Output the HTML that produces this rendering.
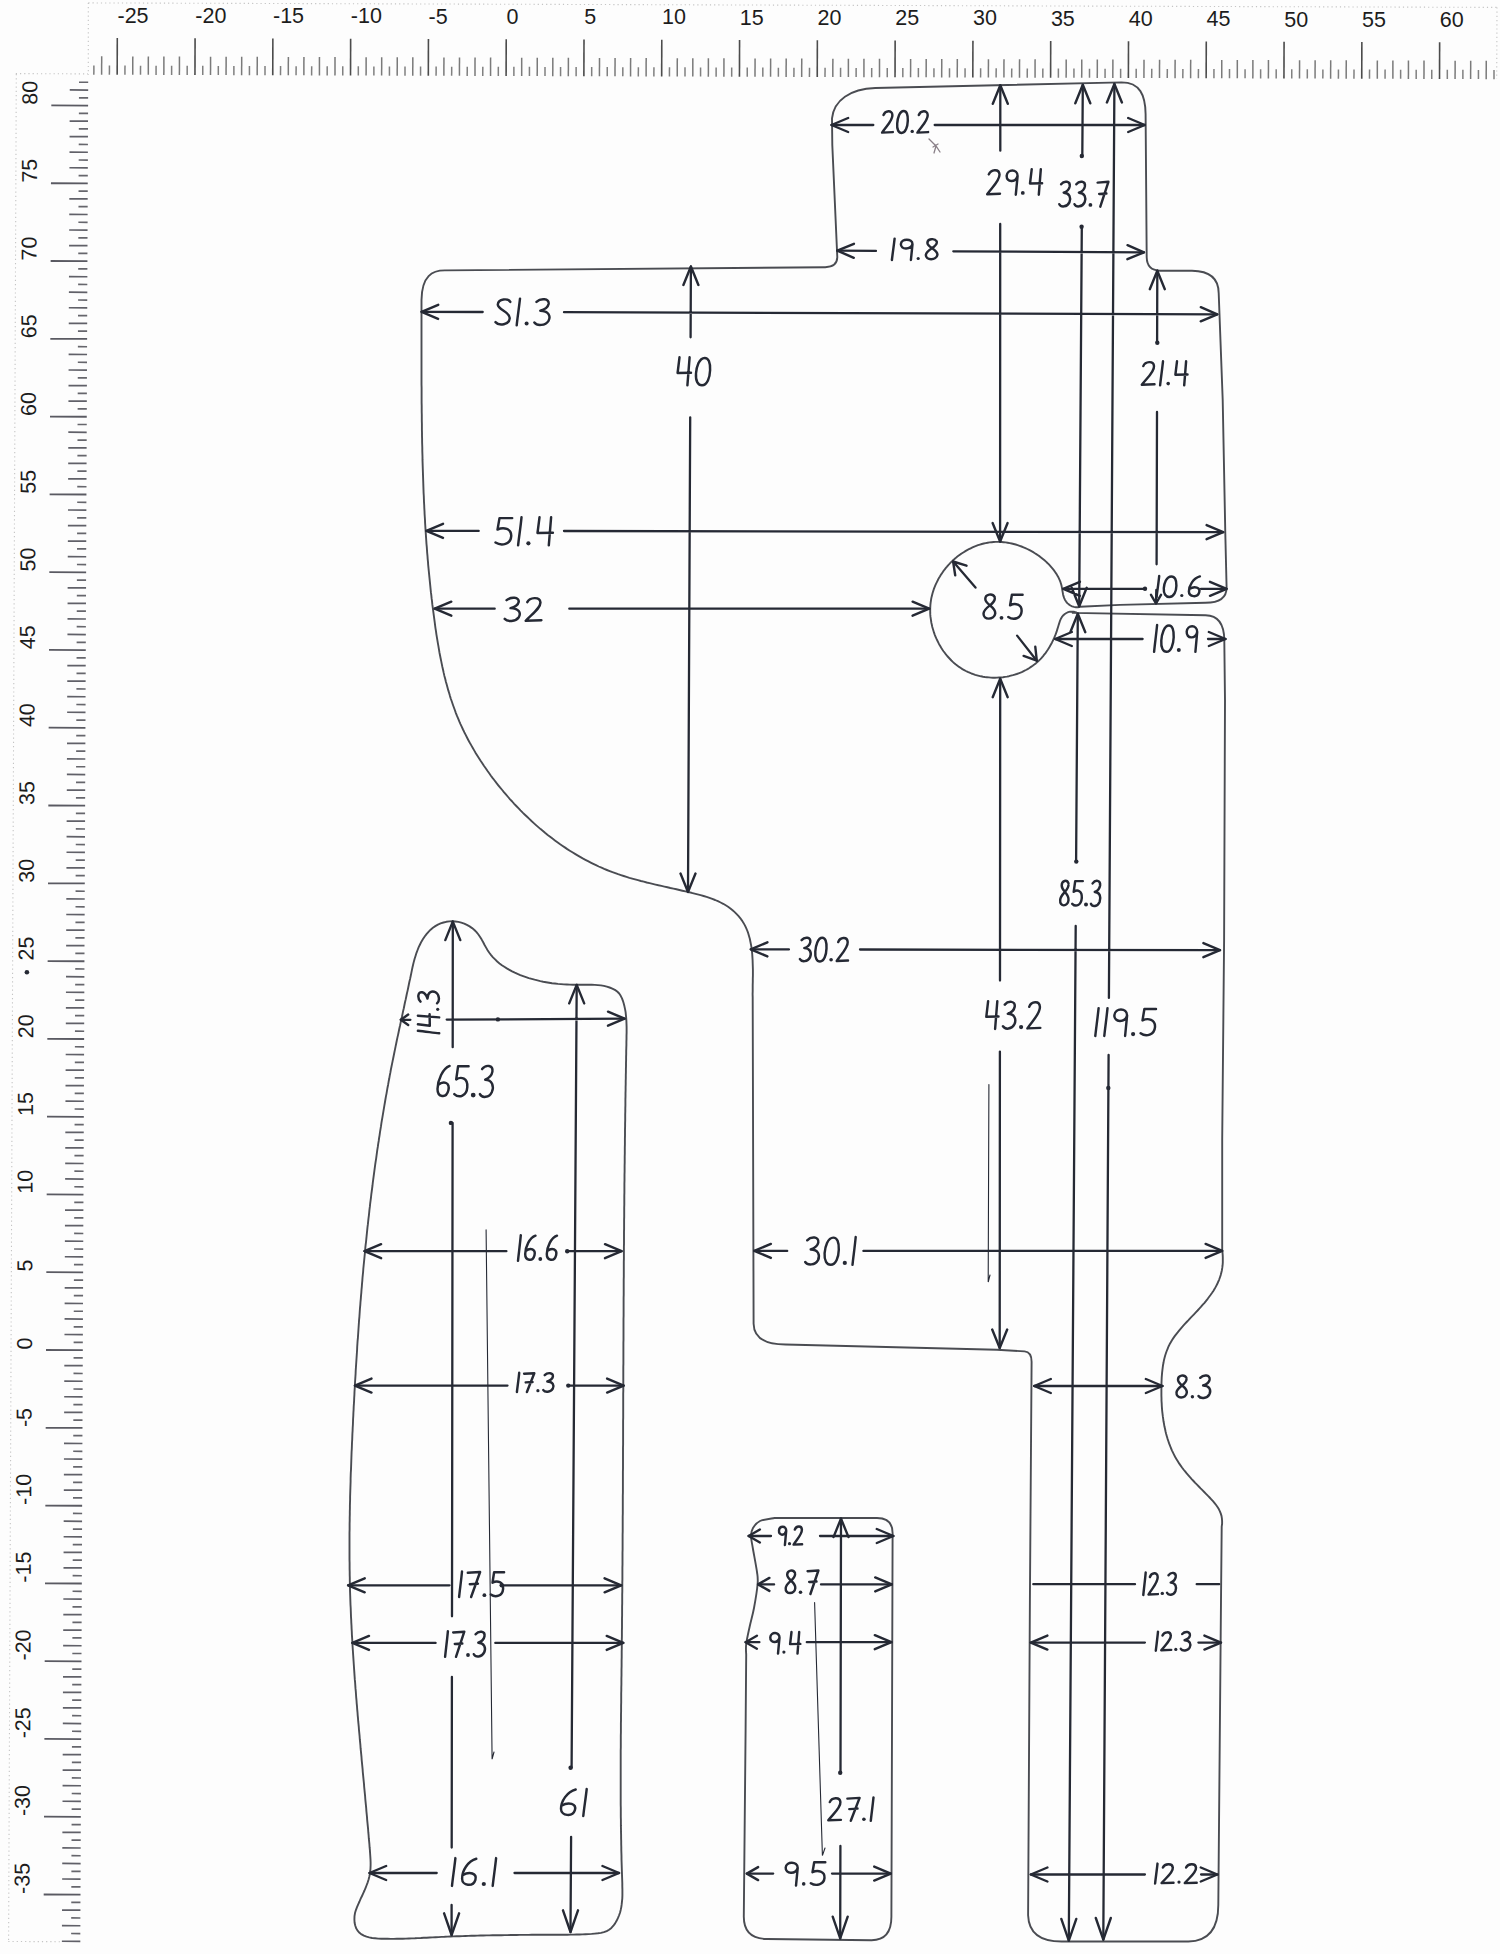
<!DOCTYPE html>
<html><head><meta charset="utf-8"><title>Pattern</title>
<style>html,body{margin:0;padding:0;background:#fdfdfd;} svg{display:block;} .rl{font-family:"Liberation Sans",sans-serif;font-size:21.5px;fill:#1c1c1c;}</style></head>
<body><svg width="1500" height="1954" viewBox="0 0 1500 1954">
<rect width="1500" height="1954" fill="#fdfdfd"/>
<g stroke="#5a5a5a" fill="none"><line x1="93.87" y1="65.48" x2="93.84" y2="74.68" stroke-width="1.5" stroke="#808080"/><line x1="101.68" y1="56.31" x2="101.62" y2="74.71" stroke-width="1.5" stroke="#7a7a7a"/><line x1="109.43" y1="65.53" x2="109.40" y2="74.73" stroke-width="1.5" stroke="#808080"/><line x1="117.29" y1="37.96" x2="117.18" y2="74.76" stroke-width="1.6" stroke="#4c4c4c"/><line x1="124.98" y1="65.58" x2="124.95" y2="74.78" stroke-width="1.5" stroke="#808080"/><line x1="132.79" y1="56.41" x2="132.73" y2="74.81" stroke-width="1.5" stroke="#7a7a7a"/><line x1="140.54" y1="65.63" x2="140.51" y2="74.83" stroke-width="1.5" stroke="#808080"/><line x1="148.35" y1="56.46" x2="148.29" y2="74.86" stroke-width="1.5" stroke="#7a7a7a"/><line x1="156.10" y1="65.68" x2="156.07" y2="74.88" stroke-width="1.5" stroke="#808080"/><line x1="163.90" y1="56.51" x2="163.85" y2="74.91" stroke-width="1.5" stroke="#7a7a7a"/><line x1="171.65" y1="65.73" x2="171.62" y2="74.93" stroke-width="1.5" stroke="#808080"/><line x1="179.46" y1="56.55" x2="179.40" y2="74.95" stroke-width="1.5" stroke="#7a7a7a"/><line x1="187.21" y1="65.78" x2="187.18" y2="74.98" stroke-width="1.5" stroke="#808080"/><line x1="195.08" y1="38.20" x2="194.96" y2="75.00" stroke-width="1.6" stroke="#4c4c4c"/><line x1="202.77" y1="65.83" x2="202.74" y2="75.03" stroke-width="1.5" stroke="#808080"/><line x1="210.58" y1="56.65" x2="210.52" y2="75.05" stroke-width="1.5" stroke="#7a7a7a"/><line x1="218.32" y1="65.88" x2="218.30" y2="75.08" stroke-width="1.5" stroke="#808080"/><line x1="226.13" y1="56.70" x2="226.07" y2="75.10" stroke-width="1.5" stroke="#7a7a7a"/><line x1="233.88" y1="65.93" x2="233.85" y2="75.13" stroke-width="1.5" stroke="#808080"/><line x1="241.69" y1="56.75" x2="241.63" y2="75.15" stroke-width="1.5" stroke="#7a7a7a"/><line x1="249.44" y1="65.98" x2="249.41" y2="75.18" stroke-width="1.5" stroke="#808080"/><line x1="257.25" y1="56.80" x2="257.19" y2="75.20" stroke-width="1.5" stroke="#7a7a7a"/><line x1="265.00" y1="66.03" x2="264.97" y2="75.23" stroke-width="1.5" stroke="#808080"/><line x1="272.86" y1="38.45" x2="272.75" y2="75.25" stroke-width="1.6" stroke="#4c4c4c"/><line x1="280.55" y1="66.08" x2="280.52" y2="75.28" stroke-width="1.5" stroke="#808080"/><line x1="288.36" y1="56.90" x2="288.30" y2="75.30" stroke-width="1.5" stroke="#7a7a7a"/><line x1="296.11" y1="66.13" x2="296.08" y2="75.33" stroke-width="1.5" stroke="#808080"/><line x1="303.92" y1="56.95" x2="303.86" y2="75.35" stroke-width="1.5" stroke="#7a7a7a"/><line x1="311.67" y1="66.18" x2="311.64" y2="75.38" stroke-width="1.5" stroke="#808080"/><line x1="319.47" y1="57.00" x2="319.42" y2="75.40" stroke-width="1.5" stroke="#7a7a7a"/><line x1="327.22" y1="66.23" x2="327.19" y2="75.43" stroke-width="1.5" stroke="#808080"/><line x1="335.03" y1="57.05" x2="334.97" y2="75.45" stroke-width="1.5" stroke="#7a7a7a"/><line x1="342.78" y1="66.28" x2="342.75" y2="75.48" stroke-width="1.5" stroke="#808080"/><line x1="350.65" y1="38.70" x2="350.53" y2="75.50" stroke-width="1.6" stroke="#4c4c4c"/><line x1="358.34" y1="66.33" x2="358.31" y2="75.53" stroke-width="1.5" stroke="#808080"/><line x1="366.15" y1="57.15" x2="366.09" y2="75.55" stroke-width="1.5" stroke="#7a7a7a"/><line x1="373.89" y1="66.38" x2="373.87" y2="75.58" stroke-width="1.5" stroke="#808080"/><line x1="381.70" y1="57.20" x2="381.64" y2="75.60" stroke-width="1.5" stroke="#7a7a7a"/><line x1="389.45" y1="66.43" x2="389.42" y2="75.63" stroke-width="1.5" stroke="#808080"/><line x1="397.26" y1="57.25" x2="397.20" y2="75.65" stroke-width="1.5" stroke="#7a7a7a"/><line x1="405.01" y1="66.48" x2="404.98" y2="75.68" stroke-width="1.5" stroke="#808080"/><line x1="412.82" y1="57.30" x2="412.76" y2="75.70" stroke-width="1.5" stroke="#7a7a7a"/><line x1="420.57" y1="66.53" x2="420.54" y2="75.73" stroke-width="1.5" stroke="#808080"/><line x1="428.43" y1="38.95" x2="428.32" y2="75.75" stroke-width="1.6" stroke="#4c4c4c"/><line x1="436.12" y1="66.58" x2="436.09" y2="75.78" stroke-width="1.5" stroke="#808080"/><line x1="443.93" y1="57.40" x2="443.87" y2="75.80" stroke-width="1.5" stroke="#7a7a7a"/><line x1="451.68" y1="66.63" x2="451.65" y2="75.83" stroke-width="1.5" stroke="#808080"/><line x1="459.49" y1="57.45" x2="459.43" y2="75.85" stroke-width="1.5" stroke="#7a7a7a"/><line x1="467.24" y1="66.68" x2="467.21" y2="75.88" stroke-width="1.5" stroke="#808080"/><line x1="475.04" y1="57.50" x2="474.99" y2="75.90" stroke-width="1.5" stroke="#7a7a7a"/><line x1="482.79" y1="66.73" x2="482.76" y2="75.93" stroke-width="1.5" stroke="#808080"/><line x1="490.60" y1="57.55" x2="490.54" y2="75.95" stroke-width="1.5" stroke="#7a7a7a"/><line x1="498.35" y1="66.78" x2="498.32" y2="75.98" stroke-width="1.5" stroke="#808080"/><line x1="506.22" y1="39.20" x2="506.10" y2="76.00" stroke-width="1.6" stroke="#4c4c4c"/><line x1="513.91" y1="66.83" x2="513.88" y2="76.03" stroke-width="1.5" stroke="#808080"/><line x1="521.72" y1="57.65" x2="521.66" y2="76.05" stroke-width="1.5" stroke="#7a7a7a"/><line x1="529.46" y1="66.87" x2="529.44" y2="76.07" stroke-width="1.5" stroke="#808080"/><line x1="537.27" y1="57.70" x2="537.21" y2="76.10" stroke-width="1.5" stroke="#7a7a7a"/><line x1="545.02" y1="66.92" x2="544.99" y2="76.12" stroke-width="1.5" stroke="#808080"/><line x1="552.83" y1="57.75" x2="552.77" y2="76.15" stroke-width="1.5" stroke="#7a7a7a"/><line x1="560.58" y1="66.97" x2="560.55" y2="76.17" stroke-width="1.5" stroke="#808080"/><line x1="568.39" y1="57.80" x2="568.33" y2="76.20" stroke-width="1.5" stroke="#7a7a7a"/><line x1="576.14" y1="67.02" x2="576.11" y2="76.22" stroke-width="1.5" stroke="#808080"/><line x1="584.00" y1="39.45" x2="583.88" y2="76.25" stroke-width="1.6" stroke="#4c4c4c"/><line x1="591.69" y1="67.07" x2="591.66" y2="76.27" stroke-width="1.5" stroke="#808080"/><line x1="599.50" y1="57.90" x2="599.44" y2="76.30" stroke-width="1.5" stroke="#7a7a7a"/><line x1="607.25" y1="67.12" x2="607.22" y2="76.32" stroke-width="1.5" stroke="#808080"/><line x1="615.06" y1="57.95" x2="615.00" y2="76.35" stroke-width="1.5" stroke="#7a7a7a"/><line x1="622.81" y1="67.17" x2="622.78" y2="76.37" stroke-width="1.5" stroke="#808080"/><line x1="630.61" y1="58.00" x2="630.56" y2="76.40" stroke-width="1.5" stroke="#7a7a7a"/><line x1="638.36" y1="67.22" x2="638.33" y2="76.42" stroke-width="1.5" stroke="#808080"/><line x1="646.17" y1="58.05" x2="646.11" y2="76.45" stroke-width="1.5" stroke="#7a7a7a"/><line x1="653.92" y1="67.27" x2="653.89" y2="76.47" stroke-width="1.5" stroke="#808080"/><line x1="661.79" y1="39.70" x2="661.67" y2="76.50" stroke-width="1.6" stroke="#4c4c4c"/><line x1="669.48" y1="67.32" x2="669.45" y2="76.52" stroke-width="1.5" stroke="#808080"/><line x1="677.29" y1="58.15" x2="677.23" y2="76.55" stroke-width="1.5" stroke="#7a7a7a"/><line x1="685.03" y1="67.37" x2="685.01" y2="76.57" stroke-width="1.5" stroke="#808080"/><line x1="692.84" y1="58.20" x2="692.78" y2="76.60" stroke-width="1.5" stroke="#7a7a7a"/><line x1="700.59" y1="67.42" x2="700.56" y2="76.62" stroke-width="1.5" stroke="#808080"/><line x1="708.40" y1="58.25" x2="708.34" y2="76.65" stroke-width="1.5" stroke="#7a7a7a"/><line x1="716.15" y1="67.47" x2="716.12" y2="76.67" stroke-width="1.5" stroke="#808080"/><line x1="723.96" y1="58.30" x2="723.90" y2="76.70" stroke-width="1.5" stroke="#7a7a7a"/><line x1="731.71" y1="67.52" x2="731.68" y2="76.72" stroke-width="1.5" stroke="#808080"/><line x1="739.57" y1="39.95" x2="739.46" y2="76.75" stroke-width="1.6" stroke="#4c4c4c"/><line x1="747.26" y1="67.57" x2="747.23" y2="76.77" stroke-width="1.5" stroke="#808080"/><line x1="755.07" y1="58.40" x2="755.01" y2="76.80" stroke-width="1.5" stroke="#7a7a7a"/><line x1="762.82" y1="67.62" x2="762.79" y2="76.82" stroke-width="1.5" stroke="#808080"/><line x1="770.63" y1="58.45" x2="770.57" y2="76.85" stroke-width="1.5" stroke="#7a7a7a"/><line x1="778.38" y1="67.67" x2="778.35" y2="76.87" stroke-width="1.5" stroke="#808080"/><line x1="786.18" y1="58.50" x2="786.13" y2="76.90" stroke-width="1.5" stroke="#7a7a7a"/><line x1="793.93" y1="67.72" x2="793.90" y2="76.92" stroke-width="1.5" stroke="#808080"/><line x1="801.74" y1="58.55" x2="801.68" y2="76.95" stroke-width="1.5" stroke="#7a7a7a"/><line x1="809.49" y1="67.77" x2="809.46" y2="76.97" stroke-width="1.5" stroke="#808080"/><line x1="817.36" y1="40.20" x2="817.24" y2="77.00" stroke-width="1.6" stroke="#4c4c4c"/><line x1="825.05" y1="67.82" x2="825.02" y2="77.02" stroke-width="1.5" stroke="#808080"/><line x1="832.86" y1="58.65" x2="832.80" y2="77.05" stroke-width="1.5" stroke="#7a7a7a"/><line x1="840.60" y1="67.87" x2="840.58" y2="77.07" stroke-width="1.5" stroke="#808080"/><line x1="848.41" y1="58.70" x2="848.35" y2="77.10" stroke-width="1.5" stroke="#7a7a7a"/><line x1="856.16" y1="67.92" x2="856.13" y2="77.12" stroke-width="1.5" stroke="#808080"/><line x1="863.97" y1="58.75" x2="863.91" y2="77.15" stroke-width="1.5" stroke="#7a7a7a"/><line x1="871.72" y1="67.97" x2="871.69" y2="77.17" stroke-width="1.5" stroke="#808080"/><line x1="879.53" y1="58.80" x2="879.47" y2="77.20" stroke-width="1.5" stroke="#7a7a7a"/><line x1="887.28" y1="68.02" x2="887.25" y2="77.22" stroke-width="1.5" stroke="#808080"/><line x1="895.14" y1="40.44" x2="895.03" y2="77.24" stroke-width="1.6" stroke="#4c4c4c"/><line x1="902.83" y1="68.07" x2="902.80" y2="77.27" stroke-width="1.5" stroke="#808080"/><line x1="910.64" y1="58.89" x2="910.58" y2="77.29" stroke-width="1.5" stroke="#7a7a7a"/><line x1="918.39" y1="68.12" x2="918.36" y2="77.32" stroke-width="1.5" stroke="#808080"/><line x1="926.20" y1="58.94" x2="926.14" y2="77.34" stroke-width="1.5" stroke="#7a7a7a"/><line x1="933.95" y1="68.17" x2="933.92" y2="77.37" stroke-width="1.5" stroke="#808080"/><line x1="941.75" y1="58.99" x2="941.70" y2="77.39" stroke-width="1.5" stroke="#7a7a7a"/><line x1="949.50" y1="68.22" x2="949.47" y2="77.42" stroke-width="1.5" stroke="#808080"/><line x1="957.31" y1="59.04" x2="957.25" y2="77.44" stroke-width="1.5" stroke="#7a7a7a"/><line x1="965.06" y1="68.27" x2="965.03" y2="77.47" stroke-width="1.5" stroke="#808080"/><line x1="972.93" y1="40.69" x2="972.81" y2="77.49" stroke-width="1.6" stroke="#4c4c4c"/><line x1="980.62" y1="68.32" x2="980.59" y2="77.52" stroke-width="1.5" stroke="#808080"/><line x1="988.43" y1="59.14" x2="988.37" y2="77.54" stroke-width="1.5" stroke="#7a7a7a"/><line x1="996.17" y1="68.37" x2="996.15" y2="77.57" stroke-width="1.5" stroke="#808080"/><line x1="1003.98" y1="59.19" x2="1003.92" y2="77.59" stroke-width="1.5" stroke="#7a7a7a"/><line x1="1011.73" y1="68.42" x2="1011.70" y2="77.62" stroke-width="1.5" stroke="#808080"/><line x1="1019.54" y1="59.24" x2="1019.48" y2="77.64" stroke-width="1.5" stroke="#7a7a7a"/><line x1="1027.29" y1="68.47" x2="1027.26" y2="77.67" stroke-width="1.5" stroke="#808080"/><line x1="1035.10" y1="59.29" x2="1035.04" y2="77.69" stroke-width="1.5" stroke="#7a7a7a"/><line x1="1042.85" y1="68.52" x2="1042.82" y2="77.72" stroke-width="1.5" stroke="#808080"/><line x1="1050.71" y1="40.94" x2="1050.60" y2="77.74" stroke-width="1.6" stroke="#4c4c4c"/><line x1="1058.40" y1="68.57" x2="1058.37" y2="77.77" stroke-width="1.5" stroke="#808080"/><line x1="1066.21" y1="59.39" x2="1066.15" y2="77.79" stroke-width="1.5" stroke="#7a7a7a"/><line x1="1073.96" y1="68.62" x2="1073.93" y2="77.82" stroke-width="1.5" stroke="#808080"/><line x1="1081.77" y1="59.44" x2="1081.71" y2="77.84" stroke-width="1.5" stroke="#7a7a7a"/><line x1="1089.52" y1="68.67" x2="1089.49" y2="77.87" stroke-width="1.5" stroke="#808080"/><line x1="1097.32" y1="59.49" x2="1097.27" y2="77.89" stroke-width="1.5" stroke="#7a7a7a"/><line x1="1105.07" y1="68.72" x2="1105.04" y2="77.92" stroke-width="1.5" stroke="#808080"/><line x1="1112.88" y1="59.54" x2="1112.82" y2="77.94" stroke-width="1.5" stroke="#7a7a7a"/><line x1="1120.63" y1="68.77" x2="1120.60" y2="77.97" stroke-width="1.5" stroke="#808080"/><line x1="1128.50" y1="41.19" x2="1128.38" y2="77.99" stroke-width="1.6" stroke="#4c4c4c"/><line x1="1136.19" y1="68.82" x2="1136.16" y2="78.02" stroke-width="1.5" stroke="#808080"/><line x1="1144.00" y1="59.64" x2="1143.94" y2="78.04" stroke-width="1.5" stroke="#7a7a7a"/><line x1="1151.74" y1="68.87" x2="1151.72" y2="78.07" stroke-width="1.5" stroke="#808080"/><line x1="1159.55" y1="59.69" x2="1159.49" y2="78.09" stroke-width="1.5" stroke="#7a7a7a"/><line x1="1167.30" y1="68.92" x2="1167.27" y2="78.12" stroke-width="1.5" stroke="#808080"/><line x1="1175.11" y1="59.74" x2="1175.05" y2="78.14" stroke-width="1.5" stroke="#7a7a7a"/><line x1="1182.86" y1="68.97" x2="1182.83" y2="78.17" stroke-width="1.5" stroke="#808080"/><line x1="1190.67" y1="59.79" x2="1190.61" y2="78.19" stroke-width="1.5" stroke="#7a7a7a"/><line x1="1198.42" y1="69.02" x2="1198.39" y2="78.22" stroke-width="1.5" stroke="#808080"/><line x1="1206.28" y1="41.44" x2="1206.16" y2="78.24" stroke-width="1.6" stroke="#4c4c4c"/><line x1="1213.97" y1="69.07" x2="1213.94" y2="78.27" stroke-width="1.5" stroke="#808080"/><line x1="1221.78" y1="59.89" x2="1221.72" y2="78.29" stroke-width="1.5" stroke="#7a7a7a"/><line x1="1229.53" y1="69.12" x2="1229.50" y2="78.32" stroke-width="1.5" stroke="#808080"/><line x1="1237.34" y1="59.94" x2="1237.28" y2="78.34" stroke-width="1.5" stroke="#7a7a7a"/><line x1="1245.09" y1="69.16" x2="1245.06" y2="78.36" stroke-width="1.5" stroke="#808080"/><line x1="1252.89" y1="59.99" x2="1252.84" y2="78.39" stroke-width="1.5" stroke="#7a7a7a"/><line x1="1260.64" y1="69.21" x2="1260.61" y2="78.41" stroke-width="1.5" stroke="#808080"/><line x1="1268.45" y1="60.04" x2="1268.39" y2="78.44" stroke-width="1.5" stroke="#7a7a7a"/><line x1="1276.20" y1="69.26" x2="1276.17" y2="78.46" stroke-width="1.5" stroke="#808080"/><line x1="1284.07" y1="41.69" x2="1283.95" y2="78.49" stroke-width="1.6" stroke="#4c4c4c"/><line x1="1291.76" y1="69.31" x2="1291.73" y2="78.51" stroke-width="1.5" stroke="#808080"/><line x1="1299.57" y1="60.14" x2="1299.51" y2="78.54" stroke-width="1.5" stroke="#7a7a7a"/><line x1="1307.31" y1="69.36" x2="1307.29" y2="78.56" stroke-width="1.5" stroke="#808080"/><line x1="1315.12" y1="60.19" x2="1315.06" y2="78.59" stroke-width="1.5" stroke="#7a7a7a"/><line x1="1322.87" y1="69.41" x2="1322.84" y2="78.61" stroke-width="1.5" stroke="#808080"/><line x1="1330.68" y1="60.24" x2="1330.62" y2="78.64" stroke-width="1.5" stroke="#7a7a7a"/><line x1="1338.43" y1="69.46" x2="1338.40" y2="78.66" stroke-width="1.5" stroke="#808080"/><line x1="1346.24" y1="60.29" x2="1346.18" y2="78.69" stroke-width="1.5" stroke="#7a7a7a"/><line x1="1353.99" y1="69.51" x2="1353.96" y2="78.71" stroke-width="1.5" stroke="#808080"/><line x1="1361.85" y1="41.94" x2="1361.74" y2="78.74" stroke-width="1.6" stroke="#4c4c4c"/><line x1="1369.54" y1="69.56" x2="1369.51" y2="78.76" stroke-width="1.5" stroke="#808080"/><line x1="1377.35" y1="60.39" x2="1377.29" y2="78.79" stroke-width="1.5" stroke="#7a7a7a"/><line x1="1385.10" y1="69.61" x2="1385.07" y2="78.81" stroke-width="1.5" stroke="#808080"/><line x1="1392.91" y1="60.44" x2="1392.85" y2="78.84" stroke-width="1.5" stroke="#7a7a7a"/><line x1="1400.66" y1="69.66" x2="1400.63" y2="78.86" stroke-width="1.5" stroke="#808080"/><line x1="1408.46" y1="60.49" x2="1408.41" y2="78.89" stroke-width="1.5" stroke="#7a7a7a"/><line x1="1416.21" y1="69.71" x2="1416.18" y2="78.91" stroke-width="1.5" stroke="#808080"/><line x1="1424.02" y1="60.54" x2="1423.96" y2="78.94" stroke-width="1.5" stroke="#7a7a7a"/><line x1="1431.77" y1="69.76" x2="1431.74" y2="78.96" stroke-width="1.5" stroke="#808080"/><line x1="1439.64" y1="42.19" x2="1439.52" y2="78.99" stroke-width="1.6" stroke="#4c4c4c"/><line x1="1447.33" y1="69.81" x2="1447.30" y2="79.01" stroke-width="1.5" stroke="#808080"/><line x1="1455.14" y1="60.64" x2="1455.08" y2="79.04" stroke-width="1.5" stroke="#7a7a7a"/><line x1="1462.88" y1="69.86" x2="1462.86" y2="79.06" stroke-width="1.5" stroke="#808080"/><line x1="1470.69" y1="60.69" x2="1470.63" y2="79.09" stroke-width="1.5" stroke="#7a7a7a"/><line x1="1478.44" y1="69.91" x2="1478.41" y2="79.11" stroke-width="1.5" stroke="#808080"/><line x1="1486.25" y1="60.74" x2="1486.19" y2="79.14" stroke-width="1.5" stroke="#7a7a7a"/><line x1="1494.00" y1="69.96" x2="1493.97" y2="79.16" stroke-width="1.5" stroke="#808080"/></g>
<g class="rl"><text x="117.5" y="22.6">-25</text><text x="195.3" y="22.9">-20</text><text x="273.0" y="23.1">-15</text><text x="350.8" y="23.4">-10</text><text x="428.6" y="23.6">-5</text><text x="506.4" y="23.9">0</text><text x="584.2" y="24.1">5</text><text x="662.0" y="24.4">10</text><text x="739.8" y="24.7">15</text><text x="817.5" y="24.9">20</text><text x="895.3" y="25.2">25</text><text x="973.1" y="25.4">30</text><text x="1050.9" y="25.7">35</text><text x="1128.7" y="25.9">40</text><text x="1206.5" y="26.2">45</text><text x="1284.2" y="26.5">50</text><text x="1362.0" y="26.7">55</text><text x="1439.8" y="27.0">60</text></g>
<g stroke="#5a5a5a" fill="none"><line x1="79.00" y1="82.23" x2="88.20" y2="82.26" stroke-width="1.7" stroke="#66666c"/><line x1="69.77" y1="89.96" x2="88.17" y2="90.04" stroke-width="1.7" stroke="#606068"/><line x1="78.93" y1="97.78" x2="88.13" y2="97.82" stroke-width="1.7" stroke="#66666c"/><line x1="51.30" y1="105.44" x2="88.10" y2="105.60" stroke-width="1.8" stroke="#5a5a62"/><line x1="78.87" y1="113.34" x2="88.07" y2="113.38" stroke-width="1.7" stroke="#66666c"/><line x1="69.63" y1="121.08" x2="88.03" y2="121.16" stroke-width="1.7" stroke="#606068"/><line x1="78.80" y1="128.90" x2="88.00" y2="128.94" stroke-width="1.7" stroke="#66666c"/><line x1="69.57" y1="136.64" x2="87.97" y2="136.71" stroke-width="1.7" stroke="#606068"/><line x1="78.73" y1="144.45" x2="87.93" y2="144.49" stroke-width="1.7" stroke="#66666c"/><line x1="69.50" y1="152.19" x2="87.90" y2="152.27" stroke-width="1.7" stroke="#606068"/><line x1="78.67" y1="160.01" x2="87.87" y2="160.05" stroke-width="1.7" stroke="#66666c"/><line x1="69.44" y1="167.75" x2="87.84" y2="167.83" stroke-width="1.7" stroke="#606068"/><line x1="78.60" y1="175.57" x2="87.80" y2="175.61" stroke-width="1.7" stroke="#66666c"/><line x1="50.97" y1="183.23" x2="87.77" y2="183.38" stroke-width="1.8" stroke="#5a5a62"/><line x1="78.54" y1="191.12" x2="87.74" y2="191.16" stroke-width="1.7" stroke="#66666c"/><line x1="69.30" y1="198.86" x2="87.70" y2="198.94" stroke-width="1.7" stroke="#606068"/><line x1="78.47" y1="206.68" x2="87.67" y2="206.72" stroke-width="1.7" stroke="#66666c"/><line x1="69.24" y1="214.42" x2="87.64" y2="214.50" stroke-width="1.7" stroke="#606068"/><line x1="78.40" y1="222.24" x2="87.60" y2="222.28" stroke-width="1.7" stroke="#66666c"/><line x1="69.17" y1="229.98" x2="87.57" y2="230.06" stroke-width="1.7" stroke="#606068"/><line x1="78.34" y1="237.80" x2="87.54" y2="237.83" stroke-width="1.7" stroke="#66666c"/><line x1="69.10" y1="245.53" x2="87.50" y2="245.61" stroke-width="1.7" stroke="#606068"/><line x1="78.27" y1="253.35" x2="87.47" y2="253.39" stroke-width="1.7" stroke="#66666c"/><line x1="50.64" y1="261.01" x2="87.44" y2="261.17" stroke-width="1.8" stroke="#5a5a62"/><line x1="78.21" y1="268.91" x2="87.41" y2="268.95" stroke-width="1.7" stroke="#66666c"/><line x1="68.97" y1="276.65" x2="87.37" y2="276.73" stroke-width="1.7" stroke="#606068"/><line x1="78.14" y1="284.47" x2="87.34" y2="284.51" stroke-width="1.7" stroke="#66666c"/><line x1="68.91" y1="292.21" x2="87.31" y2="292.28" stroke-width="1.7" stroke="#606068"/><line x1="78.07" y1="300.02" x2="87.27" y2="300.06" stroke-width="1.7" stroke="#66666c"/><line x1="68.84" y1="307.76" x2="87.24" y2="307.84" stroke-width="1.7" stroke="#606068"/><line x1="78.01" y1="315.58" x2="87.21" y2="315.62" stroke-width="1.7" stroke="#66666c"/><line x1="68.77" y1="323.32" x2="87.17" y2="323.40" stroke-width="1.7" stroke="#606068"/><line x1="77.94" y1="331.14" x2="87.14" y2="331.18" stroke-width="1.7" stroke="#66666c"/><line x1="50.31" y1="338.80" x2="87.11" y2="338.96" stroke-width="1.8" stroke="#5a5a62"/><line x1="77.88" y1="346.69" x2="87.08" y2="346.73" stroke-width="1.7" stroke="#66666c"/><line x1="68.64" y1="354.43" x2="87.04" y2="354.51" stroke-width="1.7" stroke="#606068"/><line x1="77.81" y1="362.25" x2="87.01" y2="362.29" stroke-width="1.7" stroke="#66666c"/><line x1="68.58" y1="369.99" x2="86.98" y2="370.07" stroke-width="1.7" stroke="#606068"/><line x1="77.74" y1="377.81" x2="86.94" y2="377.85" stroke-width="1.7" stroke="#66666c"/><line x1="68.51" y1="385.55" x2="86.91" y2="385.63" stroke-width="1.7" stroke="#606068"/><line x1="77.68" y1="393.37" x2="86.88" y2="393.40" stroke-width="1.7" stroke="#66666c"/><line x1="68.44" y1="401.10" x2="86.84" y2="401.18" stroke-width="1.7" stroke="#606068"/><line x1="77.61" y1="408.92" x2="86.81" y2="408.96" stroke-width="1.7" stroke="#66666c"/><line x1="49.98" y1="416.58" x2="86.78" y2="416.74" stroke-width="1.8" stroke="#5a5a62"/><line x1="77.54" y1="424.48" x2="86.74" y2="424.52" stroke-width="1.7" stroke="#66666c"/><line x1="68.31" y1="432.22" x2="86.71" y2="432.30" stroke-width="1.7" stroke="#606068"/><line x1="77.48" y1="440.04" x2="86.68" y2="440.08" stroke-width="1.7" stroke="#66666c"/><line x1="68.25" y1="447.78" x2="86.65" y2="447.85" stroke-width="1.7" stroke="#606068"/><line x1="77.41" y1="455.59" x2="86.61" y2="455.63" stroke-width="1.7" stroke="#66666c"/><line x1="68.18" y1="463.33" x2="86.58" y2="463.41" stroke-width="1.7" stroke="#606068"/><line x1="77.35" y1="471.15" x2="86.55" y2="471.19" stroke-width="1.7" stroke="#66666c"/><line x1="68.11" y1="478.89" x2="86.51" y2="478.97" stroke-width="1.7" stroke="#606068"/><line x1="77.28" y1="486.71" x2="86.48" y2="486.75" stroke-width="1.7" stroke="#66666c"/><line x1="49.65" y1="494.37" x2="86.45" y2="494.52" stroke-width="1.8" stroke="#5a5a62"/><line x1="77.21" y1="502.26" x2="86.41" y2="502.30" stroke-width="1.7" stroke="#66666c"/><line x1="67.98" y1="510.00" x2="86.38" y2="510.08" stroke-width="1.7" stroke="#606068"/><line x1="77.15" y1="517.82" x2="86.35" y2="517.86" stroke-width="1.7" stroke="#66666c"/><line x1="67.91" y1="525.56" x2="86.31" y2="525.64" stroke-width="1.7" stroke="#606068"/><line x1="77.08" y1="533.38" x2="86.28" y2="533.42" stroke-width="1.7" stroke="#66666c"/><line x1="67.85" y1="541.12" x2="86.25" y2="541.20" stroke-width="1.7" stroke="#606068"/><line x1="77.02" y1="548.94" x2="86.22" y2="548.97" stroke-width="1.7" stroke="#66666c"/><line x1="67.78" y1="556.67" x2="86.18" y2="556.75" stroke-width="1.7" stroke="#606068"/><line x1="76.95" y1="564.49" x2="86.15" y2="564.53" stroke-width="1.7" stroke="#66666c"/><line x1="49.32" y1="572.15" x2="86.12" y2="572.31" stroke-width="1.8" stroke="#5a5a62"/><line x1="76.88" y1="580.05" x2="86.08" y2="580.09" stroke-width="1.7" stroke="#66666c"/><line x1="67.65" y1="587.79" x2="86.05" y2="587.87" stroke-width="1.7" stroke="#606068"/><line x1="76.82" y1="595.61" x2="86.02" y2="595.65" stroke-width="1.7" stroke="#66666c"/><line x1="67.58" y1="603.35" x2="85.98" y2="603.42" stroke-width="1.7" stroke="#606068"/><line x1="76.75" y1="611.16" x2="85.95" y2="611.20" stroke-width="1.7" stroke="#66666c"/><line x1="67.52" y1="618.90" x2="85.92" y2="618.98" stroke-width="1.7" stroke="#606068"/><line x1="76.69" y1="626.72" x2="85.89" y2="626.76" stroke-width="1.7" stroke="#66666c"/><line x1="67.45" y1="634.46" x2="85.85" y2="634.54" stroke-width="1.7" stroke="#606068"/><line x1="76.62" y1="642.28" x2="85.82" y2="642.32" stroke-width="1.7" stroke="#66666c"/><line x1="48.99" y1="649.94" x2="85.79" y2="650.10" stroke-width="1.8" stroke="#5a5a62"/><line x1="76.55" y1="657.83" x2="85.75" y2="657.87" stroke-width="1.7" stroke="#66666c"/><line x1="67.32" y1="665.57" x2="85.72" y2="665.65" stroke-width="1.7" stroke="#606068"/><line x1="76.49" y1="673.39" x2="85.69" y2="673.43" stroke-width="1.7" stroke="#66666c"/><line x1="67.25" y1="681.13" x2="85.65" y2="681.21" stroke-width="1.7" stroke="#606068"/><line x1="76.42" y1="688.95" x2="85.62" y2="688.99" stroke-width="1.7" stroke="#66666c"/><line x1="67.19" y1="696.69" x2="85.59" y2="696.77" stroke-width="1.7" stroke="#606068"/><line x1="76.35" y1="704.51" x2="85.55" y2="704.54" stroke-width="1.7" stroke="#66666c"/><line x1="67.12" y1="712.24" x2="85.52" y2="712.32" stroke-width="1.7" stroke="#606068"/><line x1="76.29" y1="720.06" x2="85.49" y2="720.10" stroke-width="1.7" stroke="#66666c"/><line x1="48.66" y1="727.72" x2="85.46" y2="727.88" stroke-width="1.8" stroke="#5a5a62"/><line x1="76.22" y1="735.62" x2="85.42" y2="735.66" stroke-width="1.7" stroke="#66666c"/><line x1="66.99" y1="743.36" x2="85.39" y2="743.44" stroke-width="1.7" stroke="#606068"/><line x1="76.16" y1="751.18" x2="85.36" y2="751.22" stroke-width="1.7" stroke="#66666c"/><line x1="66.92" y1="758.92" x2="85.32" y2="758.99" stroke-width="1.7" stroke="#606068"/><line x1="76.09" y1="766.73" x2="85.29" y2="766.77" stroke-width="1.7" stroke="#66666c"/><line x1="66.86" y1="774.47" x2="85.26" y2="774.55" stroke-width="1.7" stroke="#606068"/><line x1="76.02" y1="782.29" x2="85.22" y2="782.33" stroke-width="1.7" stroke="#66666c"/><line x1="66.79" y1="790.03" x2="85.19" y2="790.11" stroke-width="1.7" stroke="#606068"/><line x1="75.96" y1="797.85" x2="85.16" y2="797.89" stroke-width="1.7" stroke="#66666c"/><line x1="48.32" y1="805.51" x2="85.12" y2="805.67" stroke-width="1.8" stroke="#5a5a62"/><line x1="75.89" y1="813.40" x2="85.09" y2="813.44" stroke-width="1.7" stroke="#66666c"/><line x1="66.66" y1="821.14" x2="85.06" y2="821.22" stroke-width="1.7" stroke="#606068"/><line x1="75.83" y1="828.96" x2="85.03" y2="829.00" stroke-width="1.7" stroke="#66666c"/><line x1="66.59" y1="836.70" x2="84.99" y2="836.78" stroke-width="1.7" stroke="#606068"/><line x1="75.76" y1="844.52" x2="84.96" y2="844.56" stroke-width="1.7" stroke="#66666c"/><line x1="66.53" y1="852.26" x2="84.93" y2="852.34" stroke-width="1.7" stroke="#606068"/><line x1="75.69" y1="860.08" x2="84.89" y2="860.11" stroke-width="1.7" stroke="#66666c"/><line x1="66.46" y1="867.81" x2="84.86" y2="867.89" stroke-width="1.7" stroke="#606068"/><line x1="75.63" y1="875.63" x2="84.83" y2="875.67" stroke-width="1.7" stroke="#66666c"/><line x1="47.99" y1="883.29" x2="84.79" y2="883.45" stroke-width="1.8" stroke="#5a5a62"/><line x1="75.56" y1="891.19" x2="84.76" y2="891.23" stroke-width="1.7" stroke="#66666c"/><line x1="66.33" y1="898.93" x2="84.73" y2="899.01" stroke-width="1.7" stroke="#606068"/><line x1="75.49" y1="906.75" x2="84.69" y2="906.79" stroke-width="1.7" stroke="#66666c"/><line x1="66.26" y1="914.49" x2="84.66" y2="914.56" stroke-width="1.7" stroke="#606068"/><line x1="75.43" y1="922.30" x2="84.63" y2="922.34" stroke-width="1.7" stroke="#66666c"/><line x1="66.20" y1="930.04" x2="84.60" y2="930.12" stroke-width="1.7" stroke="#606068"/><line x1="75.36" y1="937.86" x2="84.56" y2="937.90" stroke-width="1.7" stroke="#66666c"/><line x1="66.13" y1="945.60" x2="84.53" y2="945.68" stroke-width="1.7" stroke="#606068"/><line x1="75.30" y1="953.42" x2="84.50" y2="953.46" stroke-width="1.7" stroke="#66666c"/><line x1="47.66" y1="961.08" x2="84.46" y2="961.24" stroke-width="1.8" stroke="#5a5a62"/><line x1="75.23" y1="968.97" x2="84.43" y2="969.01" stroke-width="1.7" stroke="#66666c"/><line x1="66.00" y1="976.71" x2="84.40" y2="976.79" stroke-width="1.7" stroke="#606068"/><line x1="75.16" y1="984.53" x2="84.36" y2="984.57" stroke-width="1.7" stroke="#66666c"/><line x1="65.93" y1="992.27" x2="84.33" y2="992.35" stroke-width="1.7" stroke="#606068"/><line x1="75.10" y1="1000.09" x2="84.30" y2="1000.13" stroke-width="1.7" stroke="#66666c"/><line x1="65.87" y1="1007.83" x2="84.27" y2="1007.91" stroke-width="1.7" stroke="#606068"/><line x1="75.03" y1="1015.65" x2="84.23" y2="1015.68" stroke-width="1.7" stroke="#66666c"/><line x1="65.80" y1="1023.38" x2="84.20" y2="1023.46" stroke-width="1.7" stroke="#606068"/><line x1="74.97" y1="1031.20" x2="84.17" y2="1031.24" stroke-width="1.7" stroke="#66666c"/><line x1="47.33" y1="1038.86" x2="84.13" y2="1039.02" stroke-width="1.8" stroke="#5a5a62"/><line x1="74.90" y1="1046.76" x2="84.10" y2="1046.80" stroke-width="1.7" stroke="#66666c"/><line x1="65.67" y1="1054.50" x2="84.07" y2="1054.58" stroke-width="1.7" stroke="#606068"/><line x1="74.83" y1="1062.32" x2="84.03" y2="1062.36" stroke-width="1.7" stroke="#66666c"/><line x1="65.60" y1="1070.06" x2="84.00" y2="1070.13" stroke-width="1.7" stroke="#606068"/><line x1="74.77" y1="1077.87" x2="83.97" y2="1077.91" stroke-width="1.7" stroke="#66666c"/><line x1="65.53" y1="1085.61" x2="83.93" y2="1085.69" stroke-width="1.7" stroke="#606068"/><line x1="74.70" y1="1093.43" x2="83.90" y2="1093.47" stroke-width="1.7" stroke="#66666c"/><line x1="65.47" y1="1101.17" x2="83.87" y2="1101.25" stroke-width="1.7" stroke="#606068"/><line x1="74.64" y1="1108.99" x2="83.84" y2="1109.03" stroke-width="1.7" stroke="#66666c"/><line x1="47.00" y1="1116.65" x2="83.80" y2="1116.81" stroke-width="1.8" stroke="#5a5a62"/><line x1="74.57" y1="1124.54" x2="83.77" y2="1124.58" stroke-width="1.7" stroke="#66666c"/><line x1="65.34" y1="1132.28" x2="83.74" y2="1132.36" stroke-width="1.7" stroke="#606068"/><line x1="74.50" y1="1140.10" x2="83.70" y2="1140.14" stroke-width="1.7" stroke="#66666c"/><line x1="65.27" y1="1147.84" x2="83.67" y2="1147.92" stroke-width="1.7" stroke="#606068"/><line x1="74.44" y1="1155.66" x2="83.64" y2="1155.70" stroke-width="1.7" stroke="#66666c"/><line x1="65.20" y1="1163.40" x2="83.60" y2="1163.48" stroke-width="1.7" stroke="#606068"/><line x1="74.37" y1="1171.22" x2="83.57" y2="1171.25" stroke-width="1.7" stroke="#66666c"/><line x1="65.14" y1="1178.95" x2="83.54" y2="1179.03" stroke-width="1.7" stroke="#606068"/><line x1="74.30" y1="1186.77" x2="83.50" y2="1186.81" stroke-width="1.7" stroke="#66666c"/><line x1="46.67" y1="1194.43" x2="83.47" y2="1194.59" stroke-width="1.8" stroke="#5a5a62"/><line x1="74.24" y1="1202.33" x2="83.44" y2="1202.37" stroke-width="1.7" stroke="#66666c"/><line x1="65.01" y1="1210.07" x2="83.41" y2="1210.15" stroke-width="1.7" stroke="#606068"/><line x1="74.17" y1="1217.89" x2="83.37" y2="1217.93" stroke-width="1.7" stroke="#66666c"/><line x1="64.94" y1="1225.63" x2="83.34" y2="1225.70" stroke-width="1.7" stroke="#606068"/><line x1="74.11" y1="1233.44" x2="83.31" y2="1233.48" stroke-width="1.7" stroke="#66666c"/><line x1="64.87" y1="1241.18" x2="83.27" y2="1241.26" stroke-width="1.7" stroke="#606068"/><line x1="74.04" y1="1249.00" x2="83.24" y2="1249.04" stroke-width="1.7" stroke="#66666c"/><line x1="64.81" y1="1256.74" x2="83.21" y2="1256.82" stroke-width="1.7" stroke="#606068"/><line x1="73.97" y1="1264.56" x2="83.17" y2="1264.60" stroke-width="1.7" stroke="#66666c"/><line x1="46.34" y1="1272.22" x2="83.14" y2="1272.38" stroke-width="1.8" stroke="#5a5a62"/><line x1="73.91" y1="1280.11" x2="83.11" y2="1280.15" stroke-width="1.7" stroke="#66666c"/><line x1="64.68" y1="1287.85" x2="83.08" y2="1287.93" stroke-width="1.7" stroke="#606068"/><line x1="73.84" y1="1295.67" x2="83.04" y2="1295.71" stroke-width="1.7" stroke="#66666c"/><line x1="64.61" y1="1303.41" x2="83.01" y2="1303.49" stroke-width="1.7" stroke="#606068"/><line x1="73.78" y1="1311.23" x2="82.98" y2="1311.27" stroke-width="1.7" stroke="#66666c"/><line x1="64.54" y1="1318.97" x2="82.94" y2="1319.05" stroke-width="1.7" stroke="#606068"/><line x1="73.71" y1="1326.79" x2="82.91" y2="1326.82" stroke-width="1.7" stroke="#66666c"/><line x1="64.48" y1="1334.52" x2="82.88" y2="1334.60" stroke-width="1.7" stroke="#606068"/><line x1="73.64" y1="1342.34" x2="82.84" y2="1342.38" stroke-width="1.7" stroke="#66666c"/><line x1="46.01" y1="1350.00" x2="82.81" y2="1350.16" stroke-width="1.8" stroke="#5a5a62"/><line x1="73.58" y1="1357.90" x2="82.78" y2="1357.94" stroke-width="1.7" stroke="#66666c"/><line x1="64.34" y1="1365.64" x2="82.74" y2="1365.72" stroke-width="1.7" stroke="#606068"/><line x1="73.51" y1="1373.46" x2="82.71" y2="1373.50" stroke-width="1.7" stroke="#66666c"/><line x1="64.28" y1="1381.20" x2="82.68" y2="1381.27" stroke-width="1.7" stroke="#606068"/><line x1="73.45" y1="1389.01" x2="82.65" y2="1389.05" stroke-width="1.7" stroke="#66666c"/><line x1="64.21" y1="1396.75" x2="82.61" y2="1396.83" stroke-width="1.7" stroke="#606068"/><line x1="73.38" y1="1404.57" x2="82.58" y2="1404.61" stroke-width="1.7" stroke="#66666c"/><line x1="64.15" y1="1412.31" x2="82.55" y2="1412.39" stroke-width="1.7" stroke="#606068"/><line x1="73.31" y1="1420.13" x2="82.51" y2="1420.17" stroke-width="1.7" stroke="#66666c"/><line x1="45.68" y1="1427.79" x2="82.48" y2="1427.94" stroke-width="1.8" stroke="#5a5a62"/><line x1="73.25" y1="1435.68" x2="82.45" y2="1435.72" stroke-width="1.7" stroke="#66666c"/><line x1="64.01" y1="1443.42" x2="82.41" y2="1443.50" stroke-width="1.7" stroke="#606068"/><line x1="73.18" y1="1451.24" x2="82.38" y2="1451.28" stroke-width="1.7" stroke="#66666c"/><line x1="63.95" y1="1458.98" x2="82.35" y2="1459.06" stroke-width="1.7" stroke="#606068"/><line x1="73.11" y1="1466.80" x2="82.31" y2="1466.84" stroke-width="1.7" stroke="#66666c"/><line x1="63.88" y1="1474.54" x2="82.28" y2="1474.62" stroke-width="1.7" stroke="#606068"/><line x1="73.05" y1="1482.36" x2="82.25" y2="1482.39" stroke-width="1.7" stroke="#66666c"/><line x1="63.82" y1="1490.09" x2="82.22" y2="1490.17" stroke-width="1.7" stroke="#606068"/><line x1="72.98" y1="1497.91" x2="82.18" y2="1497.95" stroke-width="1.7" stroke="#66666c"/><line x1="45.35" y1="1505.57" x2="82.15" y2="1505.73" stroke-width="1.8" stroke="#5a5a62"/><line x1="72.92" y1="1513.47" x2="82.12" y2="1513.51" stroke-width="1.7" stroke="#66666c"/><line x1="63.68" y1="1521.21" x2="82.08" y2="1521.29" stroke-width="1.7" stroke="#606068"/><line x1="72.85" y1="1529.03" x2="82.05" y2="1529.07" stroke-width="1.7" stroke="#66666c"/><line x1="63.62" y1="1536.77" x2="82.02" y2="1536.84" stroke-width="1.7" stroke="#606068"/><line x1="72.78" y1="1544.58" x2="81.98" y2="1544.62" stroke-width="1.7" stroke="#66666c"/><line x1="63.55" y1="1552.32" x2="81.95" y2="1552.40" stroke-width="1.7" stroke="#606068"/><line x1="72.72" y1="1560.14" x2="81.92" y2="1560.18" stroke-width="1.7" stroke="#66666c"/><line x1="63.48" y1="1567.88" x2="81.88" y2="1567.96" stroke-width="1.7" stroke="#606068"/><line x1="72.65" y1="1575.70" x2="81.85" y2="1575.74" stroke-width="1.7" stroke="#66666c"/><line x1="45.02" y1="1583.36" x2="81.82" y2="1583.51" stroke-width="1.8" stroke="#5a5a62"/><line x1="72.59" y1="1591.25" x2="81.79" y2="1591.29" stroke-width="1.7" stroke="#66666c"/><line x1="63.35" y1="1598.99" x2="81.75" y2="1599.07" stroke-width="1.7" stroke="#606068"/><line x1="72.52" y1="1606.81" x2="81.72" y2="1606.85" stroke-width="1.7" stroke="#66666c"/><line x1="63.29" y1="1614.55" x2="81.69" y2="1614.63" stroke-width="1.7" stroke="#606068"/><line x1="72.45" y1="1622.37" x2="81.65" y2="1622.41" stroke-width="1.7" stroke="#66666c"/><line x1="63.22" y1="1630.11" x2="81.62" y2="1630.19" stroke-width="1.7" stroke="#606068"/><line x1="72.39" y1="1637.93" x2="81.59" y2="1637.96" stroke-width="1.7" stroke="#66666c"/><line x1="63.15" y1="1645.66" x2="81.55" y2="1645.74" stroke-width="1.7" stroke="#606068"/><line x1="72.32" y1="1653.48" x2="81.52" y2="1653.52" stroke-width="1.7" stroke="#66666c"/><line x1="44.69" y1="1661.14" x2="81.49" y2="1661.30" stroke-width="1.8" stroke="#5a5a62"/><line x1="72.26" y1="1669.04" x2="81.46" y2="1669.08" stroke-width="1.7" stroke="#66666c"/><line x1="63.02" y1="1676.78" x2="81.42" y2="1676.86" stroke-width="1.7" stroke="#606068"/><line x1="72.19" y1="1684.60" x2="81.39" y2="1684.64" stroke-width="1.7" stroke="#66666c"/><line x1="62.96" y1="1692.34" x2="81.36" y2="1692.41" stroke-width="1.7" stroke="#606068"/><line x1="72.12" y1="1700.15" x2="81.32" y2="1700.19" stroke-width="1.7" stroke="#66666c"/><line x1="62.89" y1="1707.89" x2="81.29" y2="1707.97" stroke-width="1.7" stroke="#606068"/><line x1="72.06" y1="1715.71" x2="81.26" y2="1715.75" stroke-width="1.7" stroke="#66666c"/><line x1="62.82" y1="1723.45" x2="81.22" y2="1723.53" stroke-width="1.7" stroke="#606068"/><line x1="71.99" y1="1731.27" x2="81.19" y2="1731.31" stroke-width="1.7" stroke="#66666c"/><line x1="44.36" y1="1738.93" x2="81.16" y2="1739.09" stroke-width="1.8" stroke="#5a5a62"/><line x1="71.92" y1="1746.82" x2="81.12" y2="1746.86" stroke-width="1.7" stroke="#66666c"/><line x1="62.69" y1="1754.56" x2="81.09" y2="1754.64" stroke-width="1.7" stroke="#606068"/><line x1="71.86" y1="1762.38" x2="81.06" y2="1762.42" stroke-width="1.7" stroke="#66666c"/><line x1="62.63" y1="1770.12" x2="81.03" y2="1770.20" stroke-width="1.7" stroke="#606068"/><line x1="71.79" y1="1777.94" x2="80.99" y2="1777.98" stroke-width="1.7" stroke="#66666c"/><line x1="62.56" y1="1785.68" x2="80.96" y2="1785.76" stroke-width="1.7" stroke="#606068"/><line x1="71.73" y1="1793.50" x2="80.93" y2="1793.53" stroke-width="1.7" stroke="#66666c"/><line x1="62.49" y1="1801.23" x2="80.89" y2="1801.31" stroke-width="1.7" stroke="#606068"/><line x1="71.66" y1="1809.05" x2="80.86" y2="1809.09" stroke-width="1.7" stroke="#66666c"/><line x1="44.03" y1="1816.71" x2="80.83" y2="1816.87" stroke-width="1.8" stroke="#5a5a62"/><line x1="71.59" y1="1824.61" x2="80.79" y2="1824.65" stroke-width="1.7" stroke="#66666c"/><line x1="62.36" y1="1832.35" x2="80.76" y2="1832.43" stroke-width="1.7" stroke="#606068"/><line x1="71.53" y1="1840.17" x2="80.73" y2="1840.21" stroke-width="1.7" stroke="#66666c"/><line x1="62.29" y1="1847.91" x2="80.69" y2="1847.98" stroke-width="1.7" stroke="#606068"/><line x1="71.46" y1="1855.72" x2="80.66" y2="1855.76" stroke-width="1.7" stroke="#66666c"/><line x1="62.23" y1="1863.46" x2="80.63" y2="1863.54" stroke-width="1.7" stroke="#606068"/><line x1="71.40" y1="1871.28" x2="80.60" y2="1871.32" stroke-width="1.7" stroke="#66666c"/><line x1="62.16" y1="1879.02" x2="80.56" y2="1879.10" stroke-width="1.7" stroke="#606068"/><line x1="71.33" y1="1886.84" x2="80.53" y2="1886.88" stroke-width="1.7" stroke="#66666c"/><line x1="43.70" y1="1894.50" x2="80.50" y2="1894.65" stroke-width="1.8" stroke="#5a5a62"/><line x1="71.26" y1="1902.39" x2="80.46" y2="1902.43" stroke-width="1.7" stroke="#66666c"/><line x1="62.03" y1="1910.13" x2="80.43" y2="1910.21" stroke-width="1.7" stroke="#606068"/><line x1="71.20" y1="1917.95" x2="80.40" y2="1917.99" stroke-width="1.7" stroke="#66666c"/><line x1="61.96" y1="1925.69" x2="80.36" y2="1925.77" stroke-width="1.7" stroke="#606068"/><line x1="71.13" y1="1933.51" x2="80.33" y2="1933.55" stroke-width="1.7" stroke="#66666c"/><line x1="61.90" y1="1941.25" x2="80.30" y2="1941.33" stroke-width="1.7" stroke="#606068"/></g>
<g class="rl"><text transform="translate(37.2,104.8) rotate(-90.24)">80</text><text transform="translate(36.9,182.6) rotate(-90.24)">75</text><text transform="translate(36.5,260.4) rotate(-90.24)">70</text><text transform="translate(36.2,338.2) rotate(-90.24)">65</text><text transform="translate(35.9,415.9) rotate(-90.24)">60</text><text transform="translate(35.5,493.7) rotate(-90.24)">55</text><text transform="translate(35.2,571.5) rotate(-90.24)">50</text><text transform="translate(34.9,649.3) rotate(-90.24)">45</text><text transform="translate(34.6,727.1) rotate(-90.24)">40</text><text transform="translate(34.2,804.9) rotate(-90.24)">35</text><text transform="translate(33.9,882.7) rotate(-90.24)">30</text><text transform="translate(33.6,960.4) rotate(-90.24)">25</text><text transform="translate(33.2,1038.2) rotate(-90.24)">20</text><text transform="translate(32.9,1116.0) rotate(-90.24)">15</text><text transform="translate(32.6,1193.8) rotate(-90.24)">10</text><text transform="translate(32.2,1271.6) rotate(-90.24)">5</text><text transform="translate(31.9,1349.4) rotate(-90.24)">0</text><text transform="translate(31.6,1427.1) rotate(-90.24)">-5</text><text transform="translate(31.2,1504.9) rotate(-90.24)">-10</text><text transform="translate(30.9,1582.7) rotate(-90.24)">-15</text><text transform="translate(30.6,1660.5) rotate(-90.24)">-20</text><text transform="translate(30.3,1738.3) rotate(-90.24)">-25</text><text transform="translate(29.9,1816.1) rotate(-90.24)">-30</text><text transform="translate(29.6,1893.9) rotate(-90.24)">-35</text></g>
<circle cx="26.9" cy="972.3" r="2.3" fill="#252934"/>
<path stroke="#c4c4c4" stroke-width="1.1" stroke-dasharray="1.2 3" fill="none" d="M88.3,2.9 L1497,7.4 M88.3,2.9 L88.3,75 M1497,7.4 L1496.7,79 M15.8,73.6 L88,73.9 M16.3,74 L8.6,1941.5 M8.3,1941.5 L62,1941.7"/>
<path fill="none" stroke="#4a4c52" stroke-width="1.9" stroke-linejoin="round" d="M421.5,300.0 L421.5,303.0 L421.5,306.0 L421.5,309.1 L421.5,312.1 L421.5,315.1 L421.5,318.1 L421.5,321.2 L421.5,324.2 L421.5,327.2 L421.5,330.2 L421.5,333.2 L421.5,336.3 L421.5,339.3 L421.5,342.3 L421.5,345.3 L421.5,348.3 L421.5,351.3 L421.5,354.4 L421.5,357.4 L421.5,360.4 L421.5,363.4 L421.5,366.4 L421.5,369.5 L421.5,372.5 L421.5,375.5 L421.5,378.5 L421.5,381.5 L421.5,384.5 L421.6,387.5 L421.6,390.6 L421.6,393.6 L421.6,396.6 L421.6,399.6 L421.6,402.6 L421.7,405.6 L421.7,408.6 L421.7,411.7 L421.8,414.7 L421.8,417.7 L421.8,420.7 L421.9,423.7 L421.9,426.7 L421.9,429.7 L422.0,432.8 L422.0,435.8 L422.1,438.8 L422.1,441.8 L422.2,444.8 L422.3,447.8 L422.3,450.8 L422.4,453.8 L422.5,456.8 L422.5,459.9 L422.6,462.9 L422.7,465.9 L422.8,468.9 L422.9,471.9 L423.0,474.9 L423.1,477.9 L423.2,480.9 L423.3,483.9 L423.4,486.9 L423.5,489.9 L423.6,493.0 L423.8,496.0 L423.9,499.0 L424.0,502.0 L424.2,505.0 L424.3,508.0 L424.5,511.0 L424.6,514.0 L424.8,517.0 L425.0,520.0 L425.1,523.0 L425.3,526.0 L425.5,529.1 L425.7,532.1 L425.9,535.1 L426.1,538.1 L426.3,541.1 L426.5,544.1 L426.8,547.1 L427.0,550.1 L427.2,553.1 L427.5,556.1 L427.7,559.1 L428.0,562.1 L428.2,565.1 L428.5,568.1 L428.8,571.1 L429.1,574.2 L429.4,577.2 L429.7,580.2 L430.0,583.2 L430.3,586.2 L430.6,589.2 L430.9,592.2 L431.3,595.2 L431.6,598.2 L432.0,601.2 L432.3,604.2 L432.7,607.2 L433.1,610.2 L433.5,613.2 L433.9,616.2 L434.3,619.2 L434.7,622.2 L435.1,625.3 L435.5,628.3 L436.0,631.3 L436.4,634.3 L436.9,637.3 L437.4,640.3 L437.9,643.3 L438.4,646.2 L438.9,649.2 L439.4,652.2 L440.0,655.2 L440.6,658.2 L441.2,661.1 L441.8,664.1 L442.4,667.0 L443.1,670.0 L443.7,672.9 L444.4,675.9 L445.2,678.8 L445.9,681.7 L446.7,684.6 L447.5,687.5 L448.3,690.4 L449.2,693.3 L450.0,696.1 L450.9,699.0 L451.9,701.8 L452.9,704.7 L453.9,707.5 L454.9,710.3 L455.9,713.1 L457.0,715.9 L458.2,718.6 L459.3,721.4 L460.5,724.1 L461.8,726.8 L463.0,729.5 L464.3,732.2 L465.7,734.9 L467.0,737.5 L468.4,740.2 L469.8,742.8 L471.3,745.4 L472.8,748.0 L474.3,750.6 L475.8,753.2 L477.4,755.8 L479.0,758.3 L480.6,760.8 L482.3,763.3 L483.9,765.8 L485.7,768.3 L487.4,770.8 L489.2,773.3 L490.9,775.7 L492.7,778.1 L494.6,780.5 L496.4,782.9 L498.3,785.3 L500.2,787.7 L502.2,790.0 L504.1,792.4 L506.1,794.7 L508.1,797.0 L510.1,799.3 L512.2,801.5 L514.2,803.8 L516.3,806.0 L518.4,808.2 L520.5,810.4 L522.7,812.6 L524.9,814.7 L527.1,816.8 L529.3,818.9 L531.5,821.0 L533.8,823.1 L536.0,825.1 L538.3,827.1 L540.6,829.1 L543.0,831.0 L545.3,833.0 L547.7,834.9 L550.1,836.7 L552.5,838.6 L554.9,840.4 L557.4,842.2 L559.8,844.0 L562.3,845.7 L564.8,847.4 L567.3,849.1 L569.8,850.7 L572.4,852.3 L575.0,853.9 L577.5,855.4 L580.1,856.9 L582.7,858.4 L585.4,859.8 L588.0,861.2 L590.7,862.6 L593.3,863.9 L596.0,865.2 L598.7,866.5 L601.5,867.7 L604.2,868.9 L606.9,870.0 L609.7,871.1 L612.5,872.2 L615.3,873.2 L618.1,874.2 L620.9,875.1 L623.7,876.0 L626.5,876.9 L629.4,877.8 L632.2,878.6 L635.1,879.4 L638.0,880.2 L640.9,881.0 L643.8,881.7 L646.7,882.5 L649.6,883.2 L652.6,883.9 L655.5,884.6 L658.5,885.3 L661.4,885.9 L664.4,886.6 L667.4,887.3 L670.4,888.0 L673.4,888.6 L676.4,889.3 L679.4,890.0 L682.4,890.7 L685.5,891.4 L688.5,892.1 L691.5,892.8 L694.6,893.6 L697.6,894.4 L700.6,895.2 L703.6,896.0 L706.6,896.9 L709.5,897.9 L712.3,898.9 L715.1,900.0 L717.9,901.2 L720.6,902.5 L723.2,903.8 L725.7,905.3 L728.1,906.8 L730.4,908.5 L732.6,910.3 L734.7,912.1 L736.7,914.1 L738.6,916.1 L740.4,918.3 L742.0,920.6 L743.5,922.9 L744.9,925.4 L746.1,927.9 L747.2,930.5 L748.2,933.2 L749.0,936.0 L749.8,938.8 L750.4,941.7 L751.0,944.7 L751.5,947.7 L751.9,950.7 L752.2,953.8 L752.4,956.9 L752.6,960.0 L752.7,963.2 L752.8,966.3 L752.9,969.5 L752.9,972.6 L752.9,975.8 L752.8,978.9 L752.8,982.0 L752.7,985.1 L752.7,988.2 L752.7,991.2 L752.6,994.2 L752.7,997.1 L752.7,1000.0 L753.6,1323.7 Q754,1344.3 785.5,1344.5 L996.9,1349.7 L1024.6,1351.4 Q1031.6,1352 1031.6,1361.8 L1029.9,1600 L1028.1,1915.2 Q1029,1941.5 1061.6,1941.5 L1188.4,1941.5 Q1218.3,1941 1218.3,1905 L1221,1600 L1221.7,1526.7 L1221.7,1526.7 L1222.1,1523.8 L1222.1,1521.0 L1221.9,1518.4 L1221.5,1515.9 L1220.8,1513.6 L1219.9,1511.3 L1218.8,1509.1 L1217.5,1507.0 L1216.1,1505.0 L1214.6,1503.1 L1213.0,1501.2 L1211.3,1499.3 L1209.6,1497.5 L1207.8,1495.7 L1206.0,1493.8 L1204.2,1492.0 L1202.4,1490.2 L1200.6,1488.4 L1198.8,1486.5 L1197.0,1484.7 L1195.2,1482.9 L1193.5,1481.0 L1191.7,1479.1 L1190.0,1477.2 L1188.4,1475.3 L1186.7,1473.4 L1185.1,1471.4 L1183.5,1469.5 L1182.0,1467.5 L1180.5,1465.4 L1179.1,1463.4 L1177.8,1461.3 L1176.5,1459.2 L1175.2,1457.0 L1174.1,1454.8 L1173.0,1452.6 L1171.9,1450.3 L1170.9,1448.0 L1170.0,1445.7 L1169.1,1443.4 L1168.3,1441.0 L1167.5,1438.6 L1166.8,1436.2 L1166.1,1433.8 L1165.5,1431.3 L1165.0,1428.8 L1164.4,1426.3 L1164.0,1423.8 L1163.5,1421.3 L1163.2,1418.8 L1162.8,1416.2 L1162.5,1413.7 L1162.2,1411.1 L1162.0,1408.6 L1161.8,1406.0 L1161.7,1403.4 L1161.5,1400.8 L1161.5,1398.3 L1161.4,1395.7 L1161.4,1393.1 L1161.4,1390.5 L1161.4,1387.9 L1161.4,1385.4 L1161.5,1382.8 L1161.6,1380.3 L1161.7,1377.7 L1161.9,1375.2 L1162.1,1372.7 L1162.4,1370.2 L1162.7,1367.7 L1163.0,1365.3 L1163.5,1362.8 L1163.9,1360.4 L1164.5,1358.0 L1165.1,1355.7 L1165.9,1353.3 L1166.7,1351.0 L1167.6,1348.8 L1168.5,1346.5 L1169.6,1344.3 L1170.8,1342.2 L1172.1,1340.0 L1173.5,1337.9 L1174.9,1335.9 L1176.5,1333.8 L1178.1,1331.8 L1179.7,1329.8 L1181.4,1327.8 L1183.1,1325.9 L1184.9,1323.9 L1186.7,1322.0 L1188.5,1320.1 L1190.3,1318.1 L1192.2,1316.2 L1194.0,1314.3 L1195.8,1312.4 L1197.6,1310.5 L1199.3,1308.6 L1201.1,1306.7 L1202.8,1304.7 L1204.5,1302.8 L1206.1,1300.8 L1207.7,1298.8 L1209.2,1296.8 L1210.7,1294.8 L1212.1,1292.8 L1213.5,1290.7 L1214.8,1288.6 L1216.0,1286.4 L1217.1,1284.3 L1218.1,1282.0 L1219.1,1279.8 L1219.9,1277.5 L1220.7,1275.1 L1221.3,1272.7 L1221.9,1270.2 L1222.3,1267.7 L1222.6,1265.2 L1222.8,1262.6 L1222.8,1260.0 L1222.8,1257.4 L1222.7,1254.9 L1222.5,1252.4 L1222.2,1250.0 L1222.2,1140 L1224.1,940 L1225,700 L1224.3,640 Q1224,615.5 1205.6,615.2 L1072.7,612.9 L1076.3,612.4 L1074.2,611.8 L1072.1,611.6 L1070.1,611.7 L1068.2,612.2 L1066.4,613.0 L1064.8,614.0 L1063.4,615.2 L1062.2,616.6 L1061.2,618.2 L1060.4,619.9 L1059.7,621.7 L1059.1,623.6 L1058.5,625.5 L1057.9,627.5 L1057.3,629.4 L1056.7,631.4 L1056.0,633.3 L1055.3,635.2 L1054.5,637.1 L1053.7,639.0 L1052.8,640.9 L1051.9,642.7 L1050.9,644.5 L1049.9,646.3 L1048.9,648.1 L1047.8,649.8 L1046.6,651.5 L1045.5,653.1 L1044.2,654.7 L1042.9,656.3 L1041.6,657.8 L1040.2,659.3 L1038.8,660.7 L1037.3,662.0 L1035.8,663.4 L1034.3,664.6 L1032.7,665.8 L1031.0,666.9 L1029.4,668.0 L1027.6,669.1 L1025.9,670.0 L1024.1,670.9 L1022.3,671.8 L1020.5,672.6 L1018.6,673.3 L1016.7,674.0 L1014.8,674.6 L1012.9,675.2 L1010.9,675.7 L1009.0,676.2 L1007.0,676.6 L1005.0,676.9 L1003.0,677.2 L1001.0,677.4 L999.0,677.5 L997.0,677.6 L995.0,677.7 L992.9,677.7 L990.9,677.6 L988.9,677.4 L986.9,677.2 L984.9,677.0 L983.0,676.7 L981.0,676.3 L979.0,675.8 L977.1,675.3 L975.2,674.8 L973.3,674.1 L971.4,673.5 L969.6,672.7 L967.7,671.9 L965.9,671.0 L964.2,670.1 L962.4,669.1 L960.8,668.0 L959.1,666.9 L957.5,665.7 L955.9,664.5 L954.3,663.2 L952.8,661.9 L951.4,660.5 L950.0,659.0 L948.6,657.5 L947.2,656.0 L945.9,654.4 L944.7,652.8 L943.5,651.2 L942.3,649.5 L941.2,647.8 L940.2,646.0 L939.1,644.2 L938.2,642.4 L937.3,640.5 L936.4,638.7 L935.6,636.8 L934.8,634.8 L934.1,632.9 L933.5,630.9 L932.9,629.0 L932.3,627.0 L931.9,625.0 L931.4,623.0 L931.1,621.0 L930.8,618.9 L930.5,616.9 L930.3,614.9 L930.2,612.9 L930.2,610.8 L930.2,608.8 L930.3,606.8 L930.4,604.8 L930.6,602.8 L930.9,600.8 L931.2,598.8 L931.6,596.9 L932.1,594.9 L932.6,593.0 L933.2,591.1 L933.8,589.2 L934.5,587.3 L935.3,585.4 L936.1,583.6 L937.0,581.8 L937.9,580.0 L938.8,578.2 L939.9,576.5 L940.9,574.8 L942.1,573.1 L943.2,571.4 L944.4,569.8 L945.7,568.2 L947.0,566.7 L948.3,565.1 L949.7,563.7 L951.1,562.2 L952.5,560.8 L954.0,559.4 L955.6,558.1 L957.1,556.8 L958.7,555.6 L960.3,554.4 L962.0,553.3 L963.7,552.2 L965.4,551.1 L967.1,550.1 L968.9,549.2 L970.7,548.3 L972.5,547.4 L974.3,546.6 L976.2,545.9 L978.0,545.2 L979.9,544.6 L981.8,544.0 L983.8,543.5 L985.7,543.1 L987.7,542.7 L989.6,542.4 L991.6,542.2 L993.6,542.0 L995.6,541.9 L997.6,541.9 L999.6,541.9 L1001.6,542.0 L1003.6,542.2 L1005.6,542.4 L1007.7,542.7 L1009.7,543.1 L1011.7,543.5 L1013.7,544.0 L1015.7,544.5 L1017.6,545.1 L1019.6,545.8 L1021.5,546.5 L1023.5,547.3 L1025.4,548.1 L1027.3,549.0 L1029.1,549.9 L1031.0,550.9 L1032.8,551.9 L1034.5,553.0 L1036.3,554.1 L1038.0,555.2 L1039.7,556.4 L1041.3,557.7 L1042.9,559.0 L1044.5,560.3 L1046.0,561.6 L1047.4,563.0 L1048.9,564.4 L1050.2,565.9 L1051.5,567.4 L1052.8,568.9 L1054.0,570.4 L1055.1,572.0 L1056.2,573.6 L1057.2,575.2 L1058.2,576.9 L1059.0,578.6 L1059.8,580.4 L1060.5,582.2 L1061.1,584.1 L1061.6,586.1 L1062.0,588.1 L1062.3,590.1 L1062.7,592.2 L1063.0,594.2 L1063.5,596.2 L1064.2,598.1 L1065.0,599.9 L1066.1,601.6 L1067.3,603.1 L1068.8,604.4 L1070.4,605.5 L1072.1,606.3 L1074.0,606.9 L1075.9,607.2 L1077.9,607.2 L1080.0,606.8 L1120,604.9 L1205.6,602.8 Q1226.6,602.5 1226.6,587.7 L1225.3,533.3 L1222.7,400 L1218.7,293.3 Q1218.7,271 1192,270.7 L1160,270.7 Q1147,270.5 1146.7,257.3 L1145.6,114 C1145.3,95 1140,82.5 1121.6,82.4 L875.3,88 C850,89 834,100 832,118.3 L832.3,145 L837.3,257.3 Q837,267 825.3,267.2 L446,270.4 C432,270 421.8,276 421.5,300.0 Z"/>
<path fill="none" stroke="#4a4c52" stroke-width="1.9" stroke-linejoin="round" d="M452.3,921.3 L455.3,921.5 L458.3,921.9 L461.3,922.7 L464.2,923.6 L466.9,924.9 L469.6,926.4 L472.1,928.1 L474.4,930.0 L476.5,932.1 L478.4,934.5 L480.1,937.0 L481.7,939.6 L483.2,942.3 L484.6,945.0 L486.1,947.6 L487.6,950.2 L489.3,952.7 L491.1,955.1 L493.0,957.3 L495.1,959.4 L497.2,961.5 L499.5,963.4 L501.9,965.2 L504.3,966.8 L506.8,968.4 L509.4,969.9 L512.1,971.4 L514.8,972.7 L517.5,973.9 L520.3,975.1 L523.1,976.1 L526.0,977.1 L528.8,978.1 L531.7,978.9 L534.6,979.7 L537.5,980.4 L540.3,981.1 L543.2,981.7 L546.1,982.2 L549.1,982.7 L552.0,983.2 L554.9,983.5 L557.9,983.9 L560.9,984.1 L563.9,984.4 L566.9,984.5 L569.9,984.6 L573.0,984.7 L576.1,984.8 L579.2,984.8 L582.3,984.7 L585.5,984.7 L588.6,984.7 L591.7,984.7 L594.8,984.9 L597.9,985.1 L600.9,985.4 L603.9,985.9 L606.8,986.6 L609.6,987.5 L612.3,988.6 L614.9,989.9 L617.2,991.5 L619.2,993.5 L620.7,995.8 L622.0,998.4 L623.0,1001.1 L623.8,1003.8 L624.5,1006.6 L625.1,1009.4 L625.6,1012.2 L625.9,1015.1 L626.2,1018.0 L626.4,1021.0 L626.5,1023.9 L626.6,1026.9 L626.6,1029.9 L626.6,1032.9 L626.5,1035.9 L626.5,1039.0 L626.4,1042.0 L626.4,1045.0 L626.3,1048.0 L626.2,1051.1 L626.2,1054.1 L626.1,1057.1 L626.1,1060.1 L626.0,1063.2 L626.0,1066.2 L625.9,1069.2 L625.9,1072.2 L625.8,1075.2 L625.8,1078.3 L625.7,1081.3 L625.7,1084.3 L625.6,1087.3 L625.6,1090.3 L625.5,1093.4 L625.5,1096.4 L625.4,1099.4 L625.4,1102.4 L625.4,1105.4 L625.3,1108.4 L625.3,1111.5 L625.2,1114.5 L625.2,1117.5 L625.2,1120.5 L625.1,1123.5 L625.1,1126.5 L625.0,1129.6 L625.0,1132.6 L625.0,1135.6 L624.9,1138.6 L624.9,1141.6 L624.9,1144.6 L624.8,1147.6 L624.8,1150.7 L624.8,1153.7 L624.7,1156.7 L624.7,1159.7 L624.7,1162.7 L624.6,1165.7 L624.6,1168.7 L624.6,1171.7 L624.5,1174.7 L624.5,1177.7 L624.5,1180.8 L624.4,1183.8 L624.4,1186.8 L624.4,1189.8 L624.4,1192.8 L624.3,1195.8 L624.3,1198.8 L624.3,1201.8 L624.3,1204.8 L624.2,1207.8 L624.2,1210.8 L624.2,1213.8 L624.2,1216.9 L624.1,1219.9 L624.1,1222.9 L624.1,1225.9 L624.1,1228.9 L624.0,1231.9 L624.0,1234.9 L624.0,1237.9 L624.0,1240.9 L624.0,1243.9 L623.9,1246.9 L623.9,1249.9 L623.9,1252.9 L623.9,1255.9 L623.9,1258.9 L623.8,1261.9 L623.8,1264.9 L623.8,1267.9 L623.8,1270.9 L623.8,1273.9 L623.8,1276.9 L623.7,1279.9 L623.7,1282.9 L623.7,1285.9 L623.7,1289.0 L623.7,1292.0 L623.7,1295.0 L623.6,1298.0 L623.6,1301.0 L623.6,1304.0 L623.6,1307.0 L623.6,1310.0 L623.6,1313.0 L623.6,1316.0 L623.5,1319.0 L623.5,1322.0 L623.5,1325.0 L623.5,1328.0 L623.5,1331.0 L623.5,1334.0 L623.5,1337.0 L623.5,1340.0 L623.4,1343.0 L623.4,1345.9 L623.4,1348.9 L623.4,1351.9 L623.4,1354.9 L623.4,1357.9 L623.4,1360.9 L623.4,1363.9 L623.3,1366.9 L623.3,1369.9 L623.3,1372.9 L623.3,1375.9 L623.3,1378.9 L623.3,1381.9 L623.3,1384.9 L623.3,1387.9 L623.3,1390.9 L623.2,1393.9 L623.2,1396.9 L623.2,1399.9 L623.2,1402.9 L623.2,1405.9 L623.2,1408.9 L623.2,1411.9 L623.2,1414.9 L623.2,1417.9 L623.1,1420.9 L623.1,1423.9 L623.1,1426.9 L623.1,1429.9 L623.1,1432.9 L623.1,1435.9 L623.1,1438.9 L623.1,1441.8 L623.1,1444.8 L623.0,1447.8 L623.0,1450.8 L623.0,1453.8 L623.0,1456.8 L623.0,1459.8 L623.0,1462.8 L623.0,1465.8 L623.0,1468.8 L622.9,1471.8 L622.9,1474.8 L622.9,1477.8 L622.9,1480.8 L622.9,1483.8 L622.9,1486.8 L622.9,1489.8 L622.9,1492.8 L622.8,1495.8 L622.8,1498.8 L622.8,1501.8 L622.8,1504.7 L622.8,1507.7 L622.8,1510.7 L622.8,1513.7 L622.7,1516.7 L622.7,1519.7 L622.7,1522.7 L622.7,1525.7 L622.7,1528.7 L622.7,1531.7 L622.6,1534.7 L622.6,1537.7 L622.6,1540.7 L622.6,1543.7 L622.6,1546.7 L622.6,1549.7 L622.5,1552.7 L622.5,1555.7 L622.5,1558.7 L622.5,1561.7 L622.5,1564.6 L622.4,1567.6 L622.4,1570.6 L622.4,1573.6 L622.4,1576.6 L622.4,1579.6 L622.3,1582.6 L622.3,1585.6 L622.3,1588.6 L622.3,1591.6 L622.2,1594.6 L622.2,1597.6 L622.2,1600.6 L622.2,1603.6 L622.1,1606.6 L622.1,1609.6 L622.1,1612.6 L622.1,1615.6 L622.0,1618.6 L622.0,1621.6 L622.0,1624.6 L622.0,1627.6 L621.9,1630.6 L621.9,1633.6 L621.9,1636.6 L621.8,1639.6 L621.8,1642.5 L621.8,1645.5 L621.8,1648.5 L621.7,1651.5 L621.7,1654.5 L621.7,1657.5 L621.6,1660.5 L621.6,1663.5 L621.6,1666.5 L621.5,1669.5 L621.5,1672.5 L621.5,1675.5 L621.4,1678.5 L621.4,1681.5 L621.4,1684.5 L621.3,1687.5 L621.3,1690.5 L621.2,1693.5 L621.2,1696.5 L621.2,1699.5 L621.2,1702.5 L621.1,1705.5 L621.1,1708.5 L621.1,1711.5 L621.0,1714.5 L621.0,1717.5 L621.0,1720.5 L620.9,1723.5 L620.9,1726.5 L620.9,1729.5 L620.9,1732.5 L620.8,1735.5 L620.8,1738.6 L620.8,1741.6 L620.8,1744.6 L620.8,1747.6 L620.7,1750.6 L620.7,1753.6 L620.7,1756.6 L620.7,1759.6 L620.7,1762.6 L620.7,1765.6 L620.7,1768.6 L620.7,1771.6 L620.7,1774.6 L620.7,1777.6 L620.7,1780.7 L620.7,1783.7 L620.7,1786.7 L620.7,1789.7 L620.7,1792.7 L620.7,1795.7 L620.7,1798.7 L620.7,1801.7 L620.7,1804.7 L620.8,1807.8 L620.8,1810.8 L620.8,1813.8 L620.8,1816.8 L620.9,1819.8 L620.9,1822.8 L620.9,1825.9 L621.0,1828.9 L621.0,1831.9 L621.1,1834.9 L621.1,1837.9 L621.2,1841.0 L621.2,1844.0 L621.3,1847.0 L621.3,1850.0 L621.4,1853.0 L621.5,1856.1 L621.5,1859.1 L621.6,1862.1 L621.7,1865.1 L621.8,1868.2 L621.9,1871.2 L622.0,1874.2 L622.1,1877.3 L622.2,1880.3 L622.3,1883.3 L622.3,1886.3 L622.4,1889.4 L622.4,1892.4 L622.4,1895.4 L622.3,1898.3 L622.0,1901.3 L621.7,1904.2 L621.3,1907.1 L620.7,1909.9 L620.0,1912.7 L619.0,1915.5 L617.9,1918.2 L616.6,1920.8 L615.1,1923.4 L613.4,1925.7 L611.4,1927.9 L609.1,1929.7 L606.7,1931.1 L603.9,1932.2 L601.0,1932.9 L597.9,1933.3 L594.8,1933.6 L591.6,1933.9 L588.6,1934.1 L585.5,1934.2 L582.5,1934.4 L579.5,1934.5 L576.5,1934.5 L573.5,1934.6 L570.5,1934.6 L567.5,1934.7 L564.6,1934.7 L561.6,1934.7 L558.6,1934.7 L555.6,1934.7 L552.7,1934.7 L549.7,1934.8 L546.7,1934.8 L543.7,1934.8 L540.7,1934.8 L537.7,1934.8 L534.7,1934.8 L531.7,1934.8 L528.7,1934.9 L525.7,1934.9 L522.7,1934.9 L519.6,1934.9 L516.6,1935.0 L513.6,1935.0 L510.6,1935.0 L507.6,1935.1 L504.6,1935.1 L501.5,1935.2 L498.5,1935.2 L495.5,1935.2 L492.5,1935.3 L489.5,1935.4 L486.5,1935.4 L483.4,1935.5 L480.4,1935.5 L477.4,1935.6 L474.4,1935.7 L471.4,1935.8 L468.4,1935.9 L465.4,1936.0 L462.4,1936.1 L459.4,1936.2 L456.4,1936.3 L453.4,1936.4 L450.4,1936.5 L447.5,1936.6 L444.5,1936.8 L441.5,1936.9 L438.6,1937.1 L435.6,1937.2 L432.6,1937.4 L429.7,1937.5 L426.7,1937.7 L423.8,1937.8 L420.8,1938.0 L417.8,1938.1 L414.9,1938.3 L411.9,1938.4 L408.9,1938.5 L405.9,1938.6 L402.9,1938.7 L399.9,1938.8 L396.8,1938.8 L393.8,1938.9 L390.7,1938.9 L387.6,1938.8 L384.5,1938.8 L381.3,1938.7 L378.2,1938.6 L375.1,1938.3 L372.1,1938.0 L369.2,1937.4 L366.5,1936.7 L363.9,1935.7 L361.6,1934.4 L359.5,1932.8 L357.8,1930.9 L356.3,1928.6 L355.3,1925.8 L354.6,1922.7 L354.4,1919.5 L354.5,1916.2 L355.0,1913.1 L355.9,1910.1 L357.0,1907.2 L358.2,1904.3 L359.5,1901.5 L360.7,1898.7 L362.0,1896.0 L363.3,1893.2 L364.5,1890.5 L365.6,1887.8 L366.7,1885.0 L367.7,1882.3 L368.6,1879.5 L369.3,1876.7 L369.9,1873.9 L370.3,1871.0 L370.5,1868.1 L370.6,1865.2 L370.6,1862.2 L370.5,1859.3 L370.3,1856.3 L370.1,1853.3 L369.9,1850.2 L369.6,1847.2 L369.4,1844.2 L369.1,1841.2 L368.8,1838.2 L368.6,1835.2 L368.3,1832.2 L368.1,1829.2 L367.8,1826.2 L367.5,1823.1 L367.2,1820.1 L367.0,1817.1 L366.7,1814.1 L366.4,1811.1 L366.2,1808.1 L365.9,1805.1 L365.6,1802.1 L365.3,1799.1 L365.1,1796.1 L364.8,1793.1 L364.5,1790.1 L364.2,1787.1 L364.0,1784.1 L363.7,1781.1 L363.4,1778.1 L363.1,1775.1 L362.8,1772.1 L362.6,1769.1 L362.3,1766.1 L362.0,1763.1 L361.7,1760.1 L361.5,1757.2 L361.2,1754.2 L360.9,1751.2 L360.6,1748.2 L360.4,1745.2 L360.1,1742.2 L359.8,1739.2 L359.6,1736.2 L359.3,1733.2 L359.0,1730.2 L358.8,1727.2 L358.5,1724.2 L358.2,1721.2 L358.0,1718.3 L357.7,1715.3 L357.5,1712.3 L357.2,1709.3 L357.0,1706.3 L356.7,1703.3 L356.5,1700.3 L356.2,1697.3 L356.0,1694.3 L355.8,1691.4 L355.5,1688.4 L355.3,1685.4 L355.1,1682.4 L354.8,1679.4 L354.6,1676.4 L354.4,1673.4 L354.2,1670.4 L354.0,1667.5 L353.8,1664.5 L353.6,1661.5 L353.4,1658.5 L353.2,1655.5 L353.0,1652.5 L352.8,1649.5 L352.6,1646.5 L352.4,1643.5 L352.3,1640.6 L352.1,1637.6 L351.9,1634.6 L351.8,1631.6 L351.6,1628.6 L351.5,1625.6 L351.3,1622.6 L351.2,1619.6 L351.0,1616.6 L350.9,1613.6 L350.8,1610.7 L350.7,1607.7 L350.5,1604.7 L350.4,1601.7 L350.3,1598.7 L350.2,1595.7 L350.1,1592.7 L350.0,1589.7 L350.0,1586.7 L349.9,1583.7 L349.8,1580.7 L349.8,1577.7 L349.7,1574.7 L349.7,1571.7 L349.6,1568.7 L349.6,1565.7 L349.6,1562.8 L349.5,1559.8 L349.5,1556.8 L349.5,1553.8 L349.5,1550.8 L349.5,1547.8 L349.5,1544.8 L349.5,1541.8 L349.5,1538.8 L349.5,1535.8 L349.5,1532.8 L349.6,1529.8 L349.6,1526.8 L349.6,1523.8 L349.7,1520.8 L349.7,1517.8 L349.8,1514.8 L349.8,1511.8 L349.9,1508.8 L349.9,1505.8 L350.0,1502.8 L350.1,1499.8 L350.1,1496.8 L350.2,1493.8 L350.3,1490.7 L350.4,1487.7 L350.5,1484.7 L350.6,1481.7 L350.6,1478.7 L350.7,1475.7 L350.8,1472.7 L351.0,1469.7 L351.1,1466.7 L351.2,1463.7 L351.3,1460.7 L351.4,1457.7 L351.5,1454.7 L351.6,1451.7 L351.8,1448.7 L351.9,1445.7 L352.0,1442.7 L352.2,1439.7 L352.3,1436.7 L352.4,1433.7 L352.6,1430.7 L352.7,1427.7 L352.9,1424.7 L353.0,1421.7 L353.1,1418.7 L353.3,1415.7 L353.4,1412.7 L353.6,1409.7 L353.7,1406.7 L353.9,1403.7 L354.1,1400.7 L354.2,1397.7 L354.4,1394.7 L354.5,1391.7 L354.7,1388.7 L354.9,1385.7 L355.0,1382.7 L355.2,1379.7 L355.4,1376.7 L355.6,1373.7 L355.7,1370.7 L355.9,1367.7 L356.1,1364.7 L356.3,1361.7 L356.5,1358.7 L356.7,1355.7 L356.9,1352.7 L357.1,1349.7 L357.2,1346.7 L357.4,1343.7 L357.6,1340.8 L357.9,1337.8 L358.1,1334.8 L358.3,1331.8 L358.5,1328.8 L358.7,1325.8 L358.9,1322.8 L359.1,1319.8 L359.4,1316.8 L359.6,1313.8 L359.8,1310.8 L360.0,1307.8 L360.3,1304.8 L360.5,1301.8 L360.8,1298.9 L361.0,1295.9 L361.3,1292.9 L361.5,1289.9 L361.8,1286.9 L362.0,1283.9 L362.3,1280.9 L362.5,1277.9 L362.8,1274.9 L363.1,1272.0 L363.3,1269.0 L363.6,1266.0 L363.9,1263.0 L364.2,1260.0 L364.5,1257.0 L364.8,1254.0 L365.1,1251.1 L365.3,1248.1 L365.6,1245.1 L366.0,1242.1 L366.3,1239.1 L366.6,1236.1 L366.9,1233.2 L367.2,1230.2 L367.5,1227.2 L367.9,1224.2 L368.2,1221.2 L368.5,1218.3 L368.9,1215.3 L369.2,1212.3 L369.5,1209.3 L369.9,1206.4 L370.2,1203.4 L370.6,1200.4 L371.0,1197.4 L371.3,1194.4 L371.7,1191.5 L372.1,1188.5 L372.5,1185.5 L372.8,1182.6 L373.2,1179.6 L373.6,1176.6 L374.0,1173.6 L374.4,1170.7 L374.8,1167.7 L375.2,1164.7 L375.6,1161.8 L376.1,1158.8 L376.5,1155.8 L376.9,1152.8 L377.3,1149.9 L377.8,1146.9 L378.2,1143.9 L378.7,1141.0 L379.1,1138.0 L379.6,1135.1 L380.0,1132.1 L380.5,1129.1 L381.0,1126.2 L381.4,1123.2 L381.9,1120.2 L382.4,1117.3 L382.9,1114.3 L383.4,1111.4 L383.9,1108.4 L384.4,1105.4 L384.9,1102.5 L385.4,1099.5 L385.9,1096.6 L386.5,1093.6 L387.0,1090.7 L387.5,1087.7 L388.1,1084.7 L388.6,1081.8 L389.2,1078.8 L389.7,1075.9 L390.3,1072.9 L390.8,1070.0 L391.4,1067.0 L392.0,1064.1 L392.6,1061.1 L393.2,1058.2 L393.8,1055.2 L394.4,1052.3 L395.0,1049.4 L395.6,1046.4 L396.2,1043.5 L396.8,1040.5 L397.4,1037.6 L398.1,1034.6 L398.7,1031.7 L399.3,1028.8 L400.0,1025.8 L400.6,1022.9 L401.2,1019.9 L401.9,1017.0 L402.5,1014.1 L403.1,1011.1 L403.8,1008.2 L404.4,1005.3 L405.0,1002.3 L405.7,999.4 L406.3,996.5 L406.9,993.5 L407.6,990.6 L408.2,987.7 L408.8,984.8 L409.4,981.8 L410.1,978.9 L410.7,976.0 L411.3,973.1 L411.9,970.1 L412.5,967.2 L413.2,964.3 L413.9,961.4 L414.7,958.5 L415.6,955.7 L416.5,952.8 L417.6,950.0 L418.7,947.2 L420.0,944.5 L421.4,941.7 L423.0,939.1 L424.7,936.5 L426.5,934.1 L428.5,931.8 L430.6,929.7 L432.9,927.8 L435.3,926.1 L437.9,924.6 L440.6,923.4 L443.5,922.5 L446.3,921.8 L449.3,921.4 Z"/>
<path fill="none" stroke="#4a4c52" stroke-width="1.9" stroke-linejoin="round" d="M774.4,1518 L877,1518 Q892.6,1518 892.6,1533 L892,1730 L891.4,1916.8 Q891.4,1940.2 871.6,1940.2 L767.2,1939 Q743.8,1939 743.8,1916.8 L745.6,1730 L746.2,1654.8 C746.2,1653.0 745.6,1648.8 746.2,1644.0 C746.8,1639.2 748.5,1632.0 749.8,1626.0 C751.1,1620.0 752.7,1615.0 754.0,1608.0 C755.3,1601.0 757.1,1590.0 757.6,1584.0 C758.1,1578.0 757.8,1578.0 757.0,1572.0 C756.2,1566.0 753.8,1554.0 752.8,1548.0 C751.8,1542.0 751.0,1539.3 751.0,1536.0 C751.0,1532.7 751.5,1530.5 753.0,1528.0 C754.5,1525.5 756.4,1522.7 760.0,1521.0 C763.6,1519.3 772.0,1518.5 774.4,1518.0 Z"/>
<path fill="none" stroke="#252934" stroke-width="2.3" stroke-linecap="round" d="M831.5,125.0 L873.3,125.0 M934.7,125.0 L1144.8,125.0 M837.3,250.7 L876.0,250.9 M953.3,251.3 L1144.0,252.3 M421.6,311.8 L482.7,312.0 M564.0,312.2 L1217.3,314.3 M426.4,530.8 L478.7,530.9 M564.0,531.0 L1223.2,532.2 M434.7,608.7 L494.7,608.7 M569.3,608.7 L929.2,608.7 M1063.3,588.8 L1145.0,588.8 M1201.0,588.8 L1226.6,588.8 M1055.2,639.0 L1142.6,639.0 M1208.0,639.0 L1225.5,639.0 M750.8,949.3 L788.9,949.4 M860.0,949.5 L1220.0,950.2 M364.5,1251.2 L506.4,1251.2 M567.2,1251.2 L621.6,1251.2 M754.3,1250.9 L787.2,1250.9 M863.4,1250.9 L1222.2,1250.9 M354.9,1385.6 L507.5,1385.6 M568.3,1385.6 L623.7,1385.6 M348.1,1585.3 L449.5,1585.3 M501.7,1585.3 L621.2,1585.3 M1033.3,1584.2 L1135.0,1584.2 M1196.7,1584.2 L1219.2,1584.2 M748.6,1536.0 L771.0,1536.0 M820.0,1536.0 L893.4,1536.0 M758.1,1584.4 L774.1,1584.4 M821.0,1584.4 L891.8,1584.4 M745.6,1642.2 L759.4,1642.2 M806.8,1642.2 L891.4,1642.2 M352.4,1642.9 L435.6,1642.9 M495.3,1642.9 L623.3,1642.9 M1030.8,1642.6 L1144.9,1642.6 M1198.4,1642.6 L1221.0,1642.6 M369.5,1873.0 L436.7,1873.0 M514.5,1873.0 L619.1,1873.0 M746.8,1873.6 L773.2,1873.6 M832.0,1873.6 L890.8,1873.6 M1030.8,1874.5 L1144.9,1874.5 M1201.1,1874.5 L1217.4,1874.5 M1034.2,1386.0 L1162.5,1386.0 M446.7,1019.6 L624.6,1018.7 M400.8,1019.8 L410.4,1019.8 M1000.3,85.3 L1000.3,150.7 M1000.2,224.0 L1000.1,541.5 M1000.2,678.7 L1000.0,980.5 M999.9,1051.6 L999.7,1348.0 M1082.8,84.8 L1082.3,156.0 M1081.8,226.7 L1079.2,606.3 M1077.8,613.7 L1076.1,861.6 M1075.7,926.0 L1068.8,1940.6 M1114.4,84.0 L1108.9,997.9 M1108.6,1055.0 L1103.3,1939.7 M690.9,266.5 L690.6,337.3 M690.2,417.3 L688.0,892.0 M1157.3,270.7 L1157.1,342.7 M1157.0,412.0 L1156.6,564.3 M452.8,921.6 L452.7,1047.2 M452.6,1122.9 L452.0,1616.3 M451.9,1677.0 L451.7,1847.5 M451.6,1905.0 L451.6,1935.0 M576.7,984.9 L571.6,1767.7 M571.1,1836.8 L570.5,1932.0 M841.0,1518.6 L840.5,1772.8 M840.4,1846.0 L840.2,1938.4 M1156.3,590.0 L1156.0,603.0 M975.5,587.6 L953.1,561.5 M1017.1,635.6 L1036.8,660.7"/>
<path fill="none" stroke="#252934" stroke-width="2.4" stroke-linecap="round" stroke-linejoin="round" d="M848.1,132.0 L831.5,125.0 L848.1,118.0 M1128.2,118.0 L1144.8,125.0 L1128.2,132.0 M853.8,257.8 L837.3,250.7 L853.9,243.8 M1127.5,245.2 L1144.0,252.3 L1127.4,259.2 M438.1,318.9 L421.6,311.8 L438.2,304.8 M1200.8,307.2 L1217.3,314.3 L1200.7,321.3 M443.0,537.9 L426.4,530.8 L443.0,523.8 M1206.6,525.1 L1223.2,532.2 L1206.6,539.2 M451.3,615.7 L434.7,608.7 L451.3,601.7 M912.6,601.7 L929.2,608.7 L912.6,615.7 M1079.9,595.8 L1063.3,588.8 L1079.9,581.8 M1210.0,581.8 L1226.6,588.8 L1210.0,595.8 M1071.8,646.0 L1055.2,639.0 L1071.8,632.0 M1208.9,632.0 L1225.5,639.0 L1208.9,646.0 M767.4,956.4 L750.8,949.3 L767.4,942.3 M1203.4,943.1 L1220.0,950.2 L1203.4,957.2 M381.1,1258.2 L364.5,1251.2 L381.1,1244.2 M605.0,1244.2 L621.6,1251.2 L605.0,1258.2 M770.9,1257.9 L754.3,1250.9 L770.9,1243.9 M1205.6,1243.9 L1222.2,1250.9 L1205.6,1257.9 M371.5,1392.6 L354.9,1385.6 L371.5,1378.6 M607.1,1378.6 L623.7,1385.6 L607.1,1392.6 M364.7,1592.3 L348.1,1585.3 L364.7,1578.3 M604.6,1578.3 L621.2,1585.3 L604.6,1592.3 M759.9,1542.5 L748.6,1536.0 L759.9,1529.5 M876.8,1529.0 L893.4,1536.0 L876.8,1543.0 M769.4,1590.9 L758.1,1584.4 L769.4,1577.9 M875.2,1577.4 L891.8,1584.4 L875.2,1591.4 M756.9,1648.7 L745.6,1642.2 L756.9,1635.7 M874.8,1635.2 L891.4,1642.2 L874.8,1649.2 M369.0,1649.9 L352.4,1642.9 L369.0,1635.9 M606.7,1635.9 L623.3,1642.9 L606.7,1649.9 M1047.4,1649.6 L1030.8,1642.6 L1047.4,1635.6 M1204.4,1635.6 L1221.0,1642.6 L1204.4,1649.6 M386.1,1880.0 L369.5,1873.0 L386.1,1866.0 M602.5,1866.0 L619.1,1873.0 L602.5,1880.0 M758.1,1880.1 L746.8,1873.6 L758.1,1867.1 M874.2,1866.6 L890.8,1873.6 L874.2,1880.6 M1047.4,1881.5 L1030.8,1874.5 L1047.4,1867.5 M1200.8,1867.5 L1217.4,1874.5 L1200.8,1881.5 M1050.8,1393.0 L1034.2,1386.0 L1050.8,1379.0 M1145.9,1379.0 L1162.5,1386.0 L1145.9,1393.0 M608.0,1011.7 L624.6,1018.7 L608.0,1025.7 M408.2,1025.0 L400.8,1019.8 L408.2,1014.6 M992.8,103.8 L1000.3,85.3 L1007.8,103.8 M1007.6,523.0 L1000.1,541.5 L992.6,523.0 M992.7,697.2 L1000.2,678.7 L1007.7,697.2 M1007.2,1329.5 L999.7,1348.0 L992.2,1329.5 M1075.3,103.3 L1082.8,84.8 L1090.3,103.3 M1086.7,587.8 L1079.2,606.3 L1071.7,587.8 M1070.3,632.2 L1077.8,613.7 L1085.3,632.2 M1076.3,1918.9 L1068.8,1940.6 L1061.3,1918.9 M1106.9,102.5 L1114.4,84.0 L1121.9,102.5 M1110.8,1918.0 L1103.3,1939.7 L1095.8,1918.0 M683.4,285.0 L690.9,266.5 L698.4,285.0 M695.5,873.5 L688.0,892.0 L680.5,873.5 M1149.8,289.2 L1157.3,270.7 L1164.8,289.2 M445.3,940.1 L452.8,921.6 L460.3,940.1 M459.1,1913.3 L451.6,1935.0 L444.1,1913.3 M569.2,1003.4 L576.7,984.9 L584.2,1003.4 M578.0,1910.3 L570.5,1932.0 L563.0,1910.3 M833.5,1537.1 L841.0,1518.6 L848.5,1537.1 M847.7,1916.7 L840.2,1938.4 L832.7,1916.7 M1161.0,594.8 L1156.0,603.5 L1151.0,594.8 M955.2,575.3 L953.1,561.5 L966.5,565.7 M1035.3,646.8 L1036.8,660.7 L1023.6,655.9"/>
<g fill="#252934"><circle cx="1081.8" cy="156" r="2.2"/><circle cx="1081.6" cy="226.7" r="2.2"/><circle cx="1157.3" cy="342.7" r="2.2"/><circle cx="1076.3" cy="861.6" r="2.2"/><circle cx="1108.3" cy="1088" r="2.2"/><circle cx="497.9" cy="1019.4" r="2.2"/><circle cx="450.9" cy="1122.9" r="2.2"/><circle cx="570.6" cy="1767.7" r="2.2"/><circle cx="840.2" cy="1772.8" r="2.2"/><circle cx="1145" cy="588.8" r="2.2"/><circle cx="567.2" cy="1251.2" r="2.2"/><circle cx="568.3" cy="1385.6" r="2.2"/><circle cx="501.7" cy="1585.3" r="2.2"/></g>
<path fill="none" stroke="#252934" stroke-width="1.1" stroke-linecap="round" d="M486.1,1229.9 L492.1,1759.2 L494,1752 M988.9,1084.5 L988.2,1282.1 L990,1275 M814.6,1602.6 L822.4,1855.6 L825,1848"/>
<g fill="none" stroke="#252934" stroke-width="2.45" stroke-linecap="round" stroke-linejoin="round"><path d="M 883.5,115.0 C 885.2,110.5 892.1,109.6 892.4,115.0 C 892.8,120.6 885.9,126.7 882.1,132.6 L 892.8,132.1 M 903.7,111.0 C 899.6,111.0 897.5,118.4 897.2,123.5 C 896.7,129.8 898.8,133.0 901.6,133.0 C 905.6,133.0 907.6,126.7 907.8,120.8 C 908.0,114.5 906.6,111.0 903.7,111.0 Z M 918.8,115.0 C 920.5,110.5 927.4,109.6 927.7,115.0 C 928.1,120.6 921.2,126.7 917.4,132.6 L 928.1,132.1"/><circle cx="912.2" cy="131.4" r="1.7" fill="#252934" stroke="none"/></g><g fill="none" stroke="#252934" stroke-width="2.45" stroke-linecap="round" stroke-linejoin="round"><path d="M 894.6,238.7 C 893.8,246.2 892.6,253.6 891.9,260.0 M 912.5,244.2 C 912.4,238.3 901.3,238.3 900.9,244.0 C 900.5,249.8 910.6,250.2 912.5,244.2 L 910.9,260.0 M 936.7,241.3 C 934.5,237.8 927.3,238.7 927.4,243.0 C 927.6,247.6 938.0,249.3 937.4,254.9 C 936.8,260.4 925.2,260.9 925.9,254.7 C 926.5,249.3 936.7,247.6 936.8,242.5"/><circle cx="918.2" cy="258.5" r="1.6" fill="#252934" stroke="none"/></g><g fill="none" stroke="#252934" stroke-width="2.45" stroke-linecap="round" stroke-linejoin="round"><path d="M 510.3,301.9 C 508.3,298.2 498.3,298.2 497.8,304.6 C 498.0,309.9 510.2,311.5 509.7,318.4 C 509.2,324.8 499.1,326.4 495.5,322.1 M 520.0,298.7 C 519.0,308.0 517.5,317.3 516.7,325.3 M 536.5,301.9 C 540.6,297.9 549.5,298.2 548.6,304.0 C 547.7,308.3 543.1,309.9 540.3,310.7 C 548.7,310.7 551.0,316.3 548.5,320.8 C 545.4,325.8 537.0,326.1 534.4,322.6"/><circle cx="526.6" cy="323.4" r="2.0" fill="#252934" stroke="none"/></g><g fill="none" stroke="#252934" stroke-width="2.45" stroke-linecap="round" stroke-linejoin="round"><path d="M 512.2,518.1 L 499.5,518.1 L 497.5,529.6 C 503.5,526.8 511.8,528.5 511.2,536.3 C 510.7,544.2 501.6,546.4 495.5,542.5 M 521.5,517.3 C 520.6,527.1 519.0,536.9 518.1,545.3 M 539.5,517.3 L 537.5,533.0 L 552.9,532.7 M 551.1,517.3 L 548.8,545.3"/><circle cx="528.4" cy="543.3" r="2.1" fill="#252934" stroke="none"/></g><g fill="none" stroke="#252934" stroke-width="2.45" stroke-linecap="round" stroke-linejoin="round"><path d="M 506.6,600.2 C 510.7,596.6 519.6,596.8 518.7,602.1 C 517.9,605.9 513.3,607.4 510.5,608.1 C 518.8,608.1 521.3,613.1 518.8,617.2 C 515.7,621.8 507.3,622.0 504.7,618.9 M 527.3,602.1 C 529.6,597.3 539.7,596.3 540.4,602.1 C 541.1,608.1 531.2,614.6 525.7,620.8 L 541.4,620.3"/></g><g fill="none" stroke="#252934" stroke-width="2.45" stroke-linecap="round" stroke-linejoin="round"><path d="M 1159.2,576.0 C 1158.5,583.4 1157.3,590.7 1156.6,597.0 M 1171.4,576.4 C 1166.4,576.4 1164.1,583.4 1163.8,588.2 C 1163.4,594.1 1165.9,597.0 1169.3,597.0 C 1174.0,597.0 1176.3,591.1 1176.4,585.7 C 1176.6,579.8 1174.8,576.4 1171.4,576.4 Z M 1199.9,576.4 C 1193.4,578.1 1188.9,585.5 1188.9,591.5 C 1189.0,597.0 1197.5,598.0 1199.2,592.4 C 1200.7,587.5 1194.7,585.7 1189.3,589.0"/><circle cx="1181.8" cy="595.5" r="1.6" fill="#252934" stroke="none"/></g><g fill="none" stroke="#252934" stroke-width="2.45" stroke-linecap="round" stroke-linejoin="round"><path d="M 1157.1,625.0 C 1156.2,634.4 1154.9,643.8 1154.1,651.8 M 1169.0,625.5 C 1164.1,625.5 1161.7,634.4 1161.3,640.5 C 1160.8,648.0 1163.2,651.8 1166.5,651.8 C 1171.1,651.8 1173.4,644.3 1173.7,637.3 C 1174.0,629.8 1172.3,625.5 1169.0,625.5 Z M 1197.2,632.0 C 1197.3,624.5 1187.2,624.5 1186.7,631.7 C 1186.2,638.9 1195.4,639.5 1197.2,632.0 L 1195.4,651.8"/><circle cx="1178.8" cy="649.9" r="2.0" fill="#252934" stroke="none"/></g><g fill="none" stroke="#252934" stroke-width="2.45" stroke-linecap="round" stroke-linejoin="round"><path d="M 801.6,940.1 C 804.7,936.5 811.1,936.7 810.3,942.1 C 809.6,945.9 806.3,947.4 804.3,948.1 C 810.3,948.1 811.9,953.2 810.0,957.4 C 807.7,962.0 801.7,962.2 799.9,959.1 M 822.3,937.7 C 817.8,937.7 815.7,945.7 815.3,951.3 C 814.8,958.1 817.0,961.5 820.0,961.5 C 824.2,961.5 826.3,954.7 826.5,948.4 C 826.8,941.6 825.3,937.7 822.3,937.7 Z M 838.2,942.1 C 840.0,937.2 847.3,936.2 847.7,942.1 C 848.0,948.1 840.7,954.7 836.7,961.0 L 848.0,960.5"/><circle cx="831.1" cy="959.8" r="1.8" fill="#252934" stroke="none"/></g><g fill="none" stroke="#252934" stroke-width="2.45" stroke-linecap="round" stroke-linejoin="round"><path d="M 520.8,1235.2 C 520.0,1244.2 518.8,1253.1 518.0,1260.8 M 535.5,1235.7 C 529.6,1237.8 525.3,1246.7 525.2,1254.1 C 525.1,1260.8 532.8,1262.1 534.5,1255.2 C 535.9,1249.3 530.6,1247.0 525.6,1251.1 M 557.0,1235.7 C 551.2,1237.8 546.9,1246.7 546.8,1254.1 C 546.7,1260.8 554.4,1262.1 556.1,1255.2 C 557.5,1249.3 552.2,1247.0 547.2,1251.1"/><circle cx="540.3" cy="1259.0" r="1.9" fill="#252934" stroke="none"/></g><g fill="none" stroke="#252934" stroke-width="2.45" stroke-linecap="round" stroke-linejoin="round"><path d="M 807.2,1240.3 C 811.1,1236.2 819.2,1236.4 818.3,1242.6 C 817.4,1247.0 813.2,1248.7 810.7,1249.5 C 818.3,1249.5 820.4,1255.3 818.0,1260.1 C 815.1,1265.4 807.5,1265.6 805.2,1262.0 M 833.3,1237.6 C 827.7,1237.6 825.1,1246.7 824.6,1253.1 C 824.1,1260.9 826.9,1264.8 830.7,1264.8 C 836.0,1264.8 838.6,1257.0 838.8,1249.8 C 839.1,1242.0 837.1,1237.6 833.3,1237.6 Z M 855.7,1237.0 C 854.8,1246.7 853.4,1256.5 852.5,1264.8"/><circle cx="844.8" cy="1262.9" r="2.1" fill="#252934" stroke="none"/></g><g fill="none" stroke="#252934" stroke-width="2.45" stroke-linecap="round" stroke-linejoin="round"><path d="M 519.2,1372.8 C 518.6,1379.5 517.5,1386.2 516.9,1392.0 M 524.1,1373.8 L 534.3,1373.2 L 526.9,1392.0 M 525.7,1382.4 L 532.5,1382.0 M 544.7,1375.1 C 547.5,1372.2 553.5,1372.4 552.9,1376.6 C 552.3,1379.7 549.2,1380.9 547.3,1381.4 C 552.9,1381.4 554.5,1385.5 552.8,1388.7 C 550.6,1392.4 545.0,1392.6 543.3,1390.1"/><circle cx="537.9" cy="1390.7" r="1.6" fill="#252934" stroke="none"/></g><g fill="none" stroke="#252934" stroke-width="2.45" stroke-linecap="round" stroke-linejoin="round"><path d="M 462.0,1571.5 C 461.2,1580.4 459.9,1589.3 459.1,1597.0 M 467.8,1572.8 L 480.1,1572.0 L 471.1,1597.0 M 469.8,1584.2 L 477.9,1583.7 M 504.1,1572.3 L 494.1,1572.3 L 492.5,1582.7 C 497.2,1580.2 503.6,1581.7 503.1,1588.8 C 502.6,1596.0 495.5,1598.0 490.8,1594.5"/><circle cx="484.4" cy="1595.2" r="1.9" fill="#252934" stroke="none"/></g><g fill="none" stroke="#252934" stroke-width="2.45" stroke-linecap="round" stroke-linejoin="round"><path d="M 1145.7,1572.5 C 1145.0,1580.4 1144.0,1588.2 1143.3,1595.0 M 1149.9,1577.0 C 1151.4,1572.5 1157.5,1571.6 1157.7,1577.0 C 1158.0,1582.6 1151.9,1588.7 1148.5,1594.5 L 1157.9,1594.1 M 1168.5,1575.2 C 1171.1,1571.8 1176.4,1572.0 1175.7,1577.0 C 1175.1,1580.6 1172.4,1582.0 1170.7,1582.6 C 1175.7,1582.6 1177.0,1587.3 1175.4,1591.2 C 1173.4,1595.5 1168.4,1595.7 1167.0,1592.8"/><circle cx="1162.3" cy="1593.4" r="1.7" fill="#252934" stroke="none"/></g><g fill="none" stroke="#252934" stroke-width="2.45" stroke-linecap="round" stroke-linejoin="round"><path d="M 786.2,1530.8 C 786.3,1525.4 779.4,1525.4 779.0,1530.6 C 778.6,1535.8 784.9,1536.2 786.2,1530.8 L 784.9,1545.0 M 794.8,1529.6 C 796.1,1525.8 801.6,1525.0 801.9,1529.6 C 802.1,1534.4 796.7,1539.6 793.6,1544.6 L 802.1,1544.2"/><circle cx="789.5" cy="1543.7" r="1.6" fill="#252934" stroke="none"/></g><g fill="none" stroke="#252934" stroke-width="2.45" stroke-linecap="round" stroke-linejoin="round"><path d="M 795.0,1572.9 C 793.3,1569.0 787.2,1570.0 787.2,1574.8 C 787.3,1580.1 796.0,1582.0 795.3,1588.2 C 794.7,1594.5 785.0,1595.0 785.7,1588.0 C 786.3,1582.0 794.9,1580.1 795.1,1574.3 M 807.6,1571.2 L 818.4,1570.5 L 810.4,1594.0 M 809.2,1582.0 L 816.5,1581.5"/><circle cx="800.5" cy="1592.3" r="1.8" fill="#252934" stroke="none"/></g><g fill="none" stroke="#252934" stroke-width="2.45" stroke-linecap="round" stroke-linejoin="round"><path d="M 779.5,1637.6 C 779.6,1631.6 770.7,1631.6 770.3,1637.4 C 769.9,1643.2 778.0,1643.7 779.5,1637.6 L 778.0,1653.6 M 791.5,1632.0 L 790.1,1644.1 L 800.3,1643.9 M 799.2,1632.0 L 797.5,1653.6"/><circle cx="783.9" cy="1652.1" r="1.6" fill="#252934" stroke="none"/></g><g fill="none" stroke="#252934" stroke-width="2.45" stroke-linecap="round" stroke-linejoin="round"><path d="M 447.9,1631.2 C 447.1,1640.2 445.9,1649.1 445.1,1656.8 M 453.2,1632.5 L 464.3,1631.7 L 456.0,1656.8 M 454.8,1644.0 L 462.3,1643.5 M 475.6,1634.3 C 478.8,1630.4 485.3,1630.7 484.5,1636.3 C 483.8,1640.4 480.4,1642.0 478.3,1642.7 C 484.5,1642.7 486.1,1648.1 484.2,1652.4 C 481.8,1657.3 475.6,1657.6 473.8,1654.2"/><circle cx="468.0" cy="1655.0" r="1.9" fill="#252934" stroke="none"/></g><g fill="none" stroke="#252934" stroke-width="2.45" stroke-linecap="round" stroke-linejoin="round"><path d="M 1158.0,1631.7 C 1157.4,1638.4 1156.4,1645.0 1155.8,1650.7 M 1162.5,1635.5 C 1164.0,1631.7 1170.4,1630.9 1170.8,1635.5 C 1171.2,1640.2 1164.8,1645.4 1161.3,1650.3 L 1171.2,1649.9 M 1182.2,1634.0 C 1184.9,1631.1 1190.5,1631.3 1189.9,1635.5 C 1189.3,1638.5 1186.4,1639.7 1184.6,1640.2 C 1189.9,1640.2 1191.4,1644.2 1189.7,1647.5 C 1187.7,1651.1 1182.4,1651.3 1180.8,1648.8"/><circle cx="1175.8" cy="1649.4" r="1.6" fill="#252934" stroke="none"/></g><g fill="none" stroke="#252934" stroke-width="2.45" stroke-linecap="round" stroke-linejoin="round"><path d="M 455.4,1858.1 C 454.4,1867.8 452.8,1877.6 452.0,1885.9 M 476.3,1858.7 C 468.0,1860.9 462.0,1870.6 462.1,1878.7 C 462.1,1885.9 473.1,1887.3 475.4,1879.8 C 477.3,1873.4 469.6,1870.9 462.6,1875.3 M 496.1,1858.1 C 495.1,1867.8 493.6,1877.6 492.7,1885.9"/><circle cx="483.8" cy="1884.0" r="2.1" fill="#252934" stroke="none"/></g><g fill="none" stroke="#252934" stroke-width="2.45" stroke-linecap="round" stroke-linejoin="round"><path d="M 797.7,1867.8 C 797.7,1861.1 786.1,1861.1 785.7,1867.6 C 785.2,1874.1 795.8,1874.6 797.7,1867.8 L 796.0,1885.6 M 825.3,1862.3 L 814.2,1862.3 L 812.5,1872.2 C 817.8,1869.8 825.0,1871.2 824.5,1877.9 C 824.0,1884.6 816.1,1886.6 810.8,1883.2"/><circle cx="803.7" cy="1883.9" r="1.8" fill="#252934" stroke="none"/></g><g fill="none" stroke="#252934" stroke-width="2.45" stroke-linecap="round" stroke-linejoin="round"><path d="M 1157.5,1863.6 C 1156.8,1870.6 1155.7,1877.5 1155.1,1883.5 M 1162.9,1867.6 C 1164.7,1863.6 1172.3,1862.8 1172.8,1867.6 C 1173.3,1872.6 1165.8,1877.9 1161.6,1883.1 L 1173.5,1882.7 M 1186.1,1867.6 C 1187.9,1863.6 1195.5,1862.8 1196.0,1867.6 C 1196.5,1872.6 1189.0,1877.9 1184.8,1883.1 L 1196.7,1882.7"/><circle cx="1179.0" cy="1882.1" r="1.6" fill="#252934" stroke="none"/></g><g fill="none" stroke="#252934" stroke-width="2.45" stroke-linecap="round" stroke-linejoin="round"><path d="M 1186.4,1377.8 C 1184.5,1374.1 1177.9,1375.0 1178.0,1379.7 C 1178.1,1384.8 1187.5,1386.7 1186.8,1392.7 C 1186.2,1398.8 1175.8,1399.2 1176.5,1392.5 C 1177.1,1386.7 1186.3,1384.8 1186.5,1379.2 M 1200.2,1377.8 C 1203.5,1374.3 1210.4,1374.5 1209.6,1379.7 C 1208.9,1383.4 1205.3,1384.8 1203.1,1385.5 C 1209.6,1385.5 1211.4,1390.4 1209.4,1394.3 C 1206.9,1398.8 1200.4,1399.0 1198.5,1396.0"/><circle cx="1192.4" cy="1396.7" r="1.7" fill="#252934" stroke="none"/></g><g transform="rotate(-90 428.55 1013.05)" fill="none" stroke="#252934" stroke-width="2.45" stroke-linecap="round" stroke-linejoin="round"><path d="M 410.8,1002.4 C 410.1,1009.9 408.9,1017.3 408.3,1023.7 M 417.3,1002.4 L 415.8,1014.3 L 427.3,1014.1 M 425.9,1002.4 L 424.2,1023.7 M 440.0,1005.0 C 443.2,1001.8 450.1,1002.0 449.4,1006.7 C 448.7,1010.1 445.2,1011.3 443.0,1012.0 C 449.4,1012.0 451.3,1016.5 449.3,1020.1 C 446.9,1024.1 440.4,1024.3 438.4,1021.6"/><circle cx="432.3" cy="1022.2" r="1.6" fill="#252934" stroke="none"/></g><g fill="none" stroke="#252934" stroke-width="2.45" stroke-linecap="round" stroke-linejoin="round"><path d="M 988.8,174.4 C 990.8,169.3 999.0,168.3 999.5,174.4 C 1000.0,180.7 991.7,187.6 987.2,194.2 L 1000.0,193.7 M 1017.6,175.9 C 1017.6,168.8 1007.2,168.8 1006.7,175.7 C 1006.2,182.5 1015.7,183.0 1017.6,175.9 L 1015.8,194.7 M 1031.7,169.3 L 1030.0,183.5 L 1042.1,183.3 M 1040.8,169.3 L 1038.8,194.7"/><circle cx="1022.8" cy="192.9" r="1.9" fill="#252934" stroke="none"/></g><g fill="none" stroke="#252934" stroke-width="2.45" stroke-linecap="round" stroke-linejoin="round"><path d="M 988.1,1001.3 L 986.3,1016.8 L 998.5,1016.5 M 997.3,1001.3 L 995.1,1029.0 M 1004.8,1004.6 C 1008.3,1000.5 1015.6,1000.7 1014.7,1006.8 C 1014.0,1011.3 1010.2,1012.9 1007.8,1013.8 C 1014.7,1013.8 1016.6,1019.6 1014.4,1024.3 C 1011.8,1029.6 1004.9,1029.8 1002.9,1026.2 M 1029.2,1006.8 C 1031.2,1001.3 1039.5,1000.2 1039.9,1006.8 C 1040.4,1013.8 1032.0,1021.2 1027.4,1028.4 L 1040.3,1027.9"/><circle cx="1021.1" cy="1027.1" r="2.1" fill="#252934" stroke="none"/></g><g fill="none" stroke="#252934" stroke-width="2.45" stroke-linecap="round" stroke-linejoin="round"><path d="M 1061.1,184.3 C 1064.1,180.5 1070.5,180.8 1069.7,186.4 C 1069.0,190.4 1065.7,192.0 1063.7,192.7 C 1069.7,192.7 1071.3,198.1 1069.4,202.4 C 1067.1,207.2 1061.0,207.5 1059.3,204.2 M 1076.3,184.3 C 1079.3,180.5 1085.7,180.8 1084.9,186.4 C 1084.2,190.4 1080.9,192.0 1078.9,192.7 C 1084.9,192.7 1086.5,198.1 1084.6,202.4 C 1082.3,207.2 1076.2,207.5 1074.5,204.2 M 1097.6,182.6 L 1108.4,181.8 L 1100.3,206.7 M 1099.2,194.0 L 1106.4,193.5"/><circle cx="1090.4" cy="204.9" r="1.9" fill="#252934" stroke="none"/></g><g fill="none" stroke="#252934" stroke-width="2.45" stroke-linecap="round" stroke-linejoin="round"><path d="M 1068.5,883.4 C 1067.0,879.3 1061.8,880.3 1061.7,885.5 C 1061.7,891.3 1069.1,893.3 1068.5,900.1 C 1067.8,906.9 1059.5,907.4 1060.2,899.9 C 1060.8,893.3 1068.2,891.3 1068.5,885.0 M 1082.8,881.1 L 1075.2,881.1 L 1073.7,891.8 C 1077.4,889.2 1082.3,890.7 1081.8,898.0 C 1081.2,905.4 1075.8,907.4 1072.2,903.8 M 1092.6,883.4 C 1095.3,879.5 1100.8,879.8 1100.1,885.5 C 1099.4,889.7 1096.6,891.3 1094.8,892.0 C 1100.0,892.0 1101.3,897.5 1099.6,902.0 C 1097.5,906.9 1092.3,907.2 1090.9,903.8"/><circle cx="1086.0" cy="904.6" r="2.0" fill="#252934" stroke="none"/></g><g fill="none" stroke="#252934" stroke-width="2.45" stroke-linecap="round" stroke-linejoin="round"><path d="M 1098.6,1008.2 C 1097.6,1017.9 1096.2,1027.7 1095.3,1036.0 M 1107.5,1008.2 C 1106.6,1017.9 1105.1,1027.7 1104.3,1036.0 M 1127.1,1015.4 C 1127.1,1007.6 1115.0,1007.6 1114.4,1015.2 C 1113.9,1022.7 1124.9,1023.2 1127.1,1015.4 L 1125.1,1036.0 M 1156.0,1009.0 L 1144.4,1009.0 L 1142.5,1020.4 C 1148.0,1017.7 1155.5,1019.3 1155.0,1027.1 C 1154.4,1034.9 1146.1,1037.1 1140.6,1033.2"/><circle cx="1133.1" cy="1034.1" r="2.1" fill="#252934" stroke="none"/></g><g fill="none" stroke="#252934" stroke-width="2.45" stroke-linecap="round" stroke-linejoin="round"><path d="M 679.5,357.3 L 677.6,373.0 L 691.0,372.7 M 689.6,357.3 L 687.4,385.3 M 704.7,357.9 C 699.1,357.9 696.4,367.1 696.0,373.5 C 695.4,381.4 698.2,385.3 702.0,385.3 C 707.3,385.3 709.8,377.5 710.1,370.2 C 710.4,362.3 708.4,357.9 704.7,357.9 Z"/></g><g fill="none" stroke="#252934" stroke-width="2.45" stroke-linecap="round" stroke-linejoin="round"><path d="M 1143.3,366.1 C 1145.2,361.3 1153.5,360.3 1154.0,366.1 C 1154.5,372.1 1146.3,378.6 1141.8,384.8 L 1154.5,384.3 M 1163.0,361.3 C 1162.1,369.7 1160.9,378.1 1160.1,385.3 M 1177.0,361.3 L 1175.4,374.7 L 1187.5,374.5 M 1186.1,361.3 L 1184.2,385.3"/><circle cx="1168.2" cy="383.6" r="1.8" fill="#252934" stroke="none"/></g><g fill="none" stroke="#252934" stroke-width="2.45" stroke-linecap="round" stroke-linejoin="round"><path d="M 449.6,1065.9 C 442.8,1068.5 437.7,1079.7 437.5,1089.0 C 437.4,1097.3 446.3,1098.9 448.4,1090.3 C 450.1,1082.9 443.9,1080.0 438.0,1085.1 M 468.6,1066.3 L 458.1,1066.3 L 456.2,1079.4 C 461.2,1076.2 468.0,1078.1 467.3,1087.1 C 466.7,1096.0 459.2,1098.6 454.3,1094.1 M 482.1,1069.1 C 485.8,1064.3 493.4,1064.7 492.4,1071.7 C 491.6,1076.8 487.6,1078.7 485.2,1079.7 C 492.3,1079.7 494.2,1086.4 491.9,1091.9 C 489.1,1097.9 482.0,1098.3 479.9,1094.1"/><circle cx="473.2" cy="1095.1" r="2.4" fill="#252934" stroke="none"/></g><g fill="none" stroke="#252934" stroke-width="2.45" stroke-linecap="round" stroke-linejoin="round"><path d="M 575.7,1789.5 C 567.1,1791.7 560.9,1801.2 561.0,1809.0 C 561.1,1816.0 572.6,1817.3 574.9,1810.1 C 576.8,1803.8 568.8,1801.4 561.5,1805.7 M 586.7,1789.0 C 585.7,1798.5 584.1,1807.9 583.3,1816.0"/></g><g fill="none" stroke="#252934" stroke-width="2.45" stroke-linecap="round" stroke-linejoin="round"><path d="M 829.8,1802.1 C 831.7,1797.4 839.9,1796.5 840.4,1802.1 C 840.9,1807.9 832.8,1814.2 828.3,1820.3 L 840.9,1819.9 M 847.4,1798.6 L 859.6,1797.9 L 850.8,1820.8 M 849.3,1809.1 L 857.5,1808.6 M 873.5,1797.4 C 872.7,1805.6 871.5,1813.8 870.8,1820.8"/><circle cx="863.9" cy="1819.2" r="1.8" fill="#252934" stroke="none"/></g><g fill="none" stroke="#252934" stroke-width="2.45" stroke-linecap="round" stroke-linejoin="round"><path d="M 994.7,597.1 C 992.5,593.0 985.2,594.0 985.3,599.1 C 985.4,604.8 995.9,606.8 995.2,613.5 C 994.5,620.1 982.8,620.6 983.6,613.2 C 984.3,606.8 994.6,604.8 994.8,598.6 M 1022.6,594.8 L 1011.9,594.8 L 1010.1,605.3 C 1015.2,602.7 1022.1,604.2 1021.6,611.4 C 1021.1,618.6 1013.4,620.6 1008.3,617.0"/><circle cx="1001.5" cy="617.8" r="1.9" fill="#252934" stroke="none"/></g>
<path d="M929,139 L936,146 L940,152 M933,147 L938,144 M936,146 L934,153" stroke="#8a8088" stroke-width="1.3" fill="none" stroke-linecap="round"/>
</svg></body></html>
